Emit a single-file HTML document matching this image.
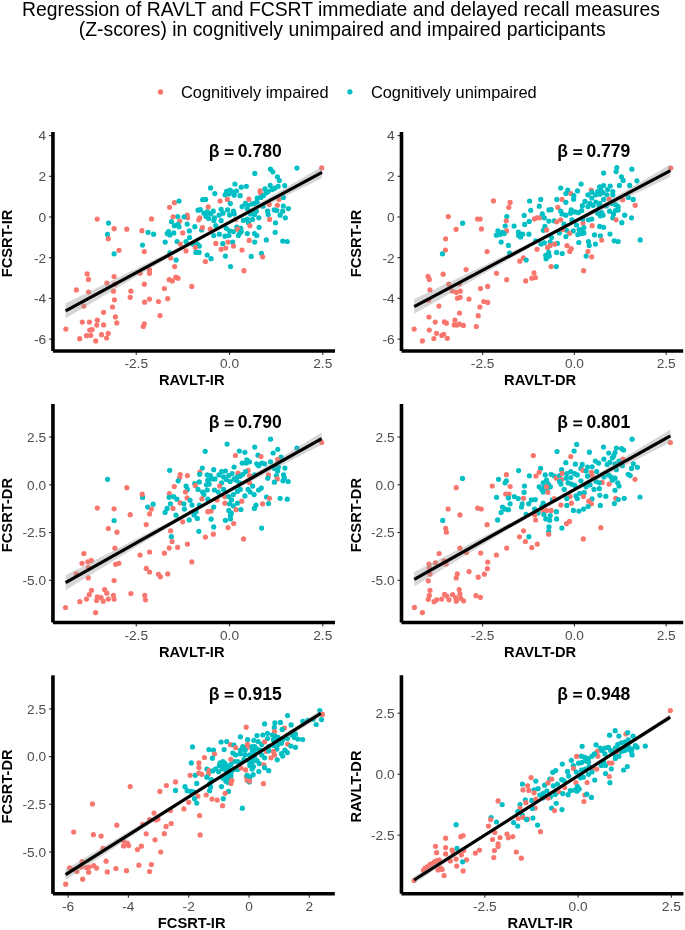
<!DOCTYPE html><html><head><meta charset="utf-8"><style>html,body{margin:0;padding:0;background:#fff;}svg{display:block;will-change:transform;}text{font-family:"Liberation Sans",sans-serif;}</style></head><body>
<svg width="685" height="930" viewBox="0 0 685 930">
<rect width="685" height="930" fill="#fff"/>
<text x="341" y="15.7" font-size="19.35" text-anchor="middle" fill="#000">Regression of RAVLT and FCSRT immediate and delayed recall measures</text>
<text x="342.2" y="35.8" font-size="19.35" text-anchor="middle" fill="#000">(Z-scores) in cognitively unimpaired and impaired participants</text>
<circle cx="160.5" cy="92" r="2.65" fill="#F8766D"/>
<circle cx="349.9" cy="91.8" r="2.65" fill="#00BFC4"/>
<text x="181.0" y="98.1" font-size="16.4" fill="#000">Cognitively impaired</text>
<text x="370.9" y="98.1" font-size="16.4" fill="#000">Cognitively unimpaired</text>
<g id="p1">
<circle cx="97.2" cy="219.1" r="2.6" fill="#F8766D"/>
<circle cx="108.5" cy="223.1" r="2.6" fill="#00BFC4"/>
<circle cx="114.1" cy="228.7" r="2.6" fill="#F8766D"/>
<circle cx="126.8" cy="229.2" r="2.6" fill="#F8766D"/>
<circle cx="141.9" cy="230.7" r="2.6" fill="#F8766D"/>
<circle cx="148.1" cy="232.3" r="2.6" fill="#00BFC4"/>
<circle cx="153.6" cy="234.2" r="2.6" fill="#00BFC4"/>
<circle cx="151.5" cy="218.9" r="2.6" fill="#F8766D"/>
<circle cx="107.5" cy="234.4" r="2.6" fill="#00BFC4"/>
<circle cx="108.3" cy="238.7" r="2.6" fill="#F8766D"/>
<circle cx="142.5" cy="245.1" r="2.6" fill="#00BFC4"/>
<circle cx="234.9" cy="184.0" r="2.6" fill="#00BFC4"/>
<circle cx="241.2" cy="187.2" r="2.6" fill="#00BFC4"/>
<circle cx="246.3" cy="186.3" r="2.6" fill="#00BFC4"/>
<circle cx="210.6" cy="187.9" r="2.6" fill="#00BFC4"/>
<circle cx="214.8" cy="193.6" r="2.6" fill="#00BFC4"/>
<circle cx="226.6" cy="191.3" r="2.6" fill="#00BFC4"/>
<circle cx="230.0" cy="190.0" r="2.6" fill="#00BFC4"/>
<circle cx="232.2" cy="191.9" r="2.6" fill="#00BFC4"/>
<circle cx="236.4" cy="191.1" r="2.6" fill="#00BFC4"/>
<circle cx="225.0" cy="194.8" r="2.6" fill="#00BFC4"/>
<circle cx="228.9" cy="193.9" r="2.6" fill="#00BFC4"/>
<circle cx="234.2" cy="195.2" r="2.6" fill="#00BFC4"/>
<circle cx="240.1" cy="195.7" r="2.6" fill="#00BFC4"/>
<circle cx="227.4" cy="199.4" r="2.6" fill="#F8766D"/>
<circle cx="220.1" cy="201.0" r="2.6" fill="#F8766D"/>
<circle cx="230.3" cy="203.6" r="2.6" fill="#00BFC4"/>
<circle cx="202.7" cy="199.7" r="2.6" fill="#00BFC4"/>
<circle cx="205.6" cy="199.4" r="2.6" fill="#00BFC4"/>
<circle cx="174.4" cy="202.7" r="2.6" fill="#F8766D"/>
<circle cx="169.6" cy="207.3" r="2.6" fill="#F8766D"/>
<circle cx="179.0" cy="201.0" r="2.6" fill="#00BFC4"/>
<circle cx="208.2" cy="206.9" r="2.6" fill="#F8766D"/>
<circle cx="198.1" cy="210.2" r="2.6" fill="#00BFC4"/>
<circle cx="200.3" cy="209.7" r="2.6" fill="#00BFC4"/>
<circle cx="204.0" cy="213.2" r="2.6" fill="#00BFC4"/>
<circle cx="207.3" cy="211.9" r="2.6" fill="#00BFC4"/>
<circle cx="210.6" cy="213.9" r="2.6" fill="#00BFC4"/>
<circle cx="213.2" cy="211.2" r="2.6" fill="#00BFC4"/>
<circle cx="206.0" cy="216.5" r="2.6" fill="#00BFC4"/>
<circle cx="208.6" cy="218.5" r="2.6" fill="#00BFC4"/>
<circle cx="214.5" cy="217.8" r="2.6" fill="#00BFC4"/>
<circle cx="213.8" cy="220.4" r="2.6" fill="#00BFC4"/>
<circle cx="221.1" cy="209.3" r="2.6" fill="#00BFC4"/>
<circle cx="227.6" cy="209.9" r="2.6" fill="#00BFC4"/>
<circle cx="233.5" cy="211.0" r="2.6" fill="#00BFC4"/>
<circle cx="219.1" cy="215.2" r="2.6" fill="#00BFC4"/>
<circle cx="223.0" cy="213.2" r="2.6" fill="#00BFC4"/>
<circle cx="229.6" cy="214.9" r="2.6" fill="#00BFC4"/>
<circle cx="234.2" cy="213.9" r="2.6" fill="#00BFC4"/>
<circle cx="242.1" cy="206.6" r="2.6" fill="#00BFC4"/>
<circle cx="245.4" cy="203.4" r="2.6" fill="#00BFC4"/>
<circle cx="247.3" cy="208.6" r="2.6" fill="#00BFC4"/>
<circle cx="199.8" cy="217.8" r="2.6" fill="#F8766D"/>
<circle cx="198.7" cy="219.8" r="2.6" fill="#F8766D"/>
<circle cx="187.2" cy="215.2" r="2.6" fill="#F8766D"/>
<circle cx="187.6" cy="217.8" r="2.6" fill="#F8766D"/>
<circle cx="184.0" cy="216.8" r="2.6" fill="#00BFC4"/>
<circle cx="177.7" cy="216.5" r="2.6" fill="#00BFC4"/>
<circle cx="173.1" cy="216.8" r="2.6" fill="#F8766D"/>
<circle cx="179.7" cy="221.1" r="2.6" fill="#F8766D"/>
<circle cx="171.5" cy="221.5" r="2.6" fill="#00BFC4"/>
<circle cx="174.4" cy="225.7" r="2.6" fill="#00BFC4"/>
<circle cx="177.7" cy="224.4" r="2.6" fill="#00BFC4"/>
<circle cx="179.0" cy="226.7" r="2.6" fill="#00BFC4"/>
<circle cx="187.2" cy="224.1" r="2.6" fill="#00BFC4"/>
<circle cx="194.8" cy="226.7" r="2.6" fill="#00BFC4"/>
<circle cx="201.6" cy="230.0" r="2.6" fill="#00BFC4"/>
<circle cx="202.4" cy="227.7" r="2.6" fill="#F8766D"/>
<circle cx="210.3" cy="229.0" r="2.6" fill="#F8766D"/>
<circle cx="215.8" cy="225.7" r="2.6" fill="#00BFC4"/>
<circle cx="221.1" cy="220.7" r="2.6" fill="#00BFC4"/>
<circle cx="235.5" cy="219.4" r="2.6" fill="#F8766D"/>
<circle cx="243.4" cy="220.4" r="2.6" fill="#00BFC4"/>
<circle cx="247.3" cy="219.1" r="2.6" fill="#00BFC4"/>
<circle cx="226.3" cy="228.3" r="2.6" fill="#00BFC4"/>
<circle cx="229.6" cy="230.9" r="2.6" fill="#00BFC4"/>
<circle cx="233.5" cy="231.6" r="2.6" fill="#00BFC4"/>
<circle cx="236.8" cy="227.0" r="2.6" fill="#00BFC4"/>
<circle cx="240.8" cy="228.3" r="2.6" fill="#00BFC4"/>
<circle cx="239.5" cy="233.6" r="2.6" fill="#00BFC4"/>
<circle cx="228.9" cy="235.5" r="2.6" fill="#00BFC4"/>
<circle cx="225.0" cy="236.2" r="2.6" fill="#00BFC4"/>
<circle cx="237.8" cy="229.2" r="2.6" fill="#F8766D"/>
<circle cx="219.4" cy="234.2" r="2.6" fill="#00BFC4"/>
<circle cx="213.8" cy="235.5" r="2.6" fill="#00BFC4"/>
<circle cx="168.5" cy="231.6" r="2.6" fill="#00BFC4"/>
<circle cx="169.8" cy="234.9" r="2.6" fill="#00BFC4"/>
<circle cx="167.2" cy="233.6" r="2.6" fill="#00BFC4"/>
<circle cx="173.8" cy="232.9" r="2.6" fill="#00BFC4"/>
<circle cx="182.7" cy="232.9" r="2.6" fill="#F8766D"/>
<circle cx="189.3" cy="230.9" r="2.6" fill="#00BFC4"/>
<circle cx="189.5" cy="237.5" r="2.6" fill="#00BFC4"/>
<circle cx="165.2" cy="242.1" r="2.6" fill="#00BFC4"/>
<circle cx="177.1" cy="241.5" r="2.6" fill="#00BFC4"/>
<circle cx="180.3" cy="244.1" r="2.6" fill="#F8766D"/>
<circle cx="186.0" cy="241.5" r="2.6" fill="#00BFC4"/>
<circle cx="192.8" cy="244.1" r="2.6" fill="#00BFC4"/>
<circle cx="197.4" cy="244.1" r="2.6" fill="#00BFC4"/>
<circle cx="199.4" cy="246.1" r="2.6" fill="#00BFC4"/>
<circle cx="195.4" cy="247.4" r="2.6" fill="#F8766D"/>
<circle cx="215.8" cy="243.4" r="2.6" fill="#F8766D"/>
<circle cx="222.8" cy="243.7" r="2.6" fill="#00BFC4"/>
<circle cx="228.0" cy="242.1" r="2.6" fill="#F8766D"/>
<circle cx="232.6" cy="242.1" r="2.6" fill="#00BFC4"/>
<circle cx="233.5" cy="246.1" r="2.6" fill="#F8766D"/>
<circle cx="225.7" cy="248.0" r="2.6" fill="#F8766D"/>
<circle cx="221.1" cy="249.3" r="2.6" fill="#F8766D"/>
<circle cx="238.4" cy="235.5" r="2.6" fill="#00BFC4"/>
<circle cx="247.3" cy="233.6" r="2.6" fill="#00BFC4"/>
<circle cx="321.7" cy="167.9" r="2.6" fill="#F8766D"/>
<circle cx="296.9" cy="168.1" r="2.6" fill="#00BFC4"/>
<circle cx="270.5" cy="169.2" r="2.6" fill="#00BFC4"/>
<circle cx="272.8" cy="171.8" r="2.6" fill="#00BFC4"/>
<circle cx="254.8" cy="173.4" r="2.6" fill="#00BFC4"/>
<circle cx="277.4" cy="176.8" r="2.6" fill="#00BFC4"/>
<circle cx="279.4" cy="180.6" r="2.6" fill="#00BFC4"/>
<circle cx="270.2" cy="185.4" r="2.6" fill="#00BFC4"/>
<circle cx="278.1" cy="186.3" r="2.6" fill="#00BFC4"/>
<circle cx="284.7" cy="185.6" r="2.6" fill="#00BFC4"/>
<circle cx="265.0" cy="188.9" r="2.6" fill="#00BFC4"/>
<circle cx="272.2" cy="189.6" r="2.6" fill="#00BFC4"/>
<circle cx="274.8" cy="188.2" r="2.6" fill="#00BFC4"/>
<circle cx="260.1" cy="190.9" r="2.6" fill="#F8766D"/>
<circle cx="260.8" cy="193.5" r="2.6" fill="#F8766D"/>
<circle cx="266.3" cy="192.8" r="2.6" fill="#00BFC4"/>
<circle cx="268.2" cy="191.5" r="2.6" fill="#00BFC4"/>
<circle cx="257.1" cy="198.1" r="2.6" fill="#00BFC4"/>
<circle cx="261.0" cy="197.4" r="2.6" fill="#00BFC4"/>
<circle cx="263.6" cy="195.5" r="2.6" fill="#00BFC4"/>
<circle cx="248.9" cy="199.2" r="2.6" fill="#F8766D"/>
<circle cx="279.0" cy="199.4" r="2.6" fill="#F8766D"/>
<circle cx="283.4" cy="197.4" r="2.6" fill="#00BFC4"/>
<circle cx="247.9" cy="205.3" r="2.6" fill="#00BFC4"/>
<circle cx="251.8" cy="204.0" r="2.6" fill="#00BFC4"/>
<circle cx="254.5" cy="203.4" r="2.6" fill="#00BFC4"/>
<circle cx="257.1" cy="202.0" r="2.6" fill="#00BFC4"/>
<circle cx="269.2" cy="204.4" r="2.6" fill="#F8766D"/>
<circle cx="277.4" cy="205.3" r="2.6" fill="#F8766D"/>
<circle cx="263.0" cy="206.2" r="2.6" fill="#00BFC4"/>
<circle cx="283.4" cy="206.0" r="2.6" fill="#00BFC4"/>
<circle cx="288.4" cy="208.6" r="2.6" fill="#00BFC4"/>
<circle cx="274.2" cy="209.9" r="2.6" fill="#00BFC4"/>
<circle cx="276.8" cy="210.6" r="2.6" fill="#00BFC4"/>
<circle cx="282.7" cy="211.2" r="2.6" fill="#00BFC4"/>
<circle cx="267.6" cy="211.2" r="2.6" fill="#00BFC4"/>
<circle cx="268.2" cy="214.5" r="2.6" fill="#00BFC4"/>
<circle cx="253.1" cy="211.9" r="2.6" fill="#00BFC4"/>
<circle cx="256.4" cy="211.2" r="2.6" fill="#00BFC4"/>
<circle cx="254.5" cy="214.5" r="2.6" fill="#00BFC4"/>
<circle cx="250.5" cy="213.9" r="2.6" fill="#00BFC4"/>
<circle cx="280.1" cy="215.2" r="2.6" fill="#00BFC4"/>
<circle cx="285.3" cy="217.8" r="2.6" fill="#00BFC4"/>
<circle cx="258.8" cy="217.8" r="2.6" fill="#00BFC4"/>
<circle cx="252.5" cy="219.4" r="2.6" fill="#00BFC4"/>
<circle cx="269.6" cy="219.4" r="2.6" fill="#F8766D"/>
<circle cx="275.5" cy="222.8" r="2.6" fill="#00BFC4"/>
<circle cx="248.5" cy="222.8" r="2.6" fill="#00BFC4"/>
<circle cx="249.9" cy="225.7" r="2.6" fill="#F8766D"/>
<circle cx="259.1" cy="227.3" r="2.6" fill="#00BFC4"/>
<circle cx="241.3" cy="231.6" r="2.6" fill="#00BFC4"/>
<circle cx="275.2" cy="232.3" r="2.6" fill="#00BFC4"/>
<circle cx="254.5" cy="233.6" r="2.6" fill="#00BFC4"/>
<circle cx="256.8" cy="235.5" r="2.6" fill="#00BFC4"/>
<circle cx="266.3" cy="239.9" r="2.6" fill="#00BFC4"/>
<circle cx="249.2" cy="240.4" r="2.6" fill="#F8766D"/>
<circle cx="254.7" cy="242.1" r="2.6" fill="#00BFC4"/>
<circle cx="282.7" cy="241.1" r="2.6" fill="#00BFC4"/>
<circle cx="287.3" cy="241.5" r="2.6" fill="#00BFC4"/>
<circle cx="242.0" cy="250.0" r="2.6" fill="#F8766D"/>
<circle cx="114.1" cy="253.9" r="2.6" fill="#00BFC4"/>
<circle cx="119.0" cy="250.3" r="2.6" fill="#F8766D"/>
<circle cx="144.3" cy="251.6" r="2.6" fill="#F8766D"/>
<circle cx="87.2" cy="273.9" r="2.6" fill="#F8766D"/>
<circle cx="88.5" cy="279.4" r="2.6" fill="#F8766D"/>
<circle cx="114.1" cy="276.5" r="2.6" fill="#F8766D"/>
<circle cx="106.9" cy="283.1" r="2.6" fill="#F8766D"/>
<circle cx="114.8" cy="284.2" r="2.6" fill="#F8766D"/>
<circle cx="140.1" cy="273.2" r="2.6" fill="#F8766D"/>
<circle cx="144.3" cy="284.2" r="2.6" fill="#F8766D"/>
<circle cx="76.4" cy="289.9" r="2.6" fill="#F8766D"/>
<circle cx="88.5" cy="292.0" r="2.6" fill="#F8766D"/>
<circle cx="113.5" cy="291.2" r="2.6" fill="#F8766D"/>
<circle cx="130.9" cy="291.2" r="2.6" fill="#F8766D"/>
<circle cx="130.2" cy="297.3" r="2.6" fill="#F8766D"/>
<circle cx="114.4" cy="299.8" r="2.6" fill="#F8766D"/>
<circle cx="83.9" cy="306.1" r="2.6" fill="#F8766D"/>
<circle cx="112.5" cy="307.0" r="2.6" fill="#F8766D"/>
<circle cx="144.6" cy="302.2" r="2.6" fill="#F8766D"/>
<circle cx="103.6" cy="312.3" r="2.6" fill="#F8766D"/>
<circle cx="115.4" cy="316.9" r="2.6" fill="#F8766D"/>
<circle cx="116.8" cy="322.9" r="2.6" fill="#F8766D"/>
<circle cx="82.3" cy="322.1" r="2.6" fill="#F8766D"/>
<circle cx="89.4" cy="322.1" r="2.6" fill="#F8766D"/>
<circle cx="97.4" cy="320.2" r="2.6" fill="#F8766D"/>
<circle cx="96.8" cy="325.1" r="2.6" fill="#F8766D"/>
<circle cx="103.6" cy="324.9" r="2.6" fill="#F8766D"/>
<circle cx="144.3" cy="323.8" r="2.6" fill="#F8766D"/>
<circle cx="143.3" cy="326.5" r="2.6" fill="#F8766D"/>
<circle cx="65.8" cy="329.1" r="2.6" fill="#F8766D"/>
<circle cx="89.8" cy="330.1" r="2.6" fill="#F8766D"/>
<circle cx="92.1" cy="329.7" r="2.6" fill="#F8766D"/>
<circle cx="86.5" cy="335.7" r="2.6" fill="#F8766D"/>
<circle cx="90.7" cy="335.4" r="2.6" fill="#F8766D"/>
<circle cx="101.6" cy="334.7" r="2.6" fill="#F8766D"/>
<circle cx="108.2" cy="333.4" r="2.6" fill="#F8766D"/>
<circle cx="106.6" cy="338.0" r="2.6" fill="#F8766D"/>
<circle cx="79.7" cy="338.7" r="2.6" fill="#F8766D"/>
<circle cx="95.7" cy="340.9" r="2.6" fill="#F8766D"/>
<circle cx="186.0" cy="250.9" r="2.6" fill="#F8766D"/>
<circle cx="195.9" cy="252.4" r="2.6" fill="#00BFC4"/>
<circle cx="199.1" cy="252.4" r="2.6" fill="#00BFC4"/>
<circle cx="169.9" cy="252.8" r="2.6" fill="#00BFC4"/>
<circle cx="170.7" cy="258.0" r="2.6" fill="#F8766D"/>
<circle cx="176.1" cy="260.1" r="2.6" fill="#00BFC4"/>
<circle cx="174.6" cy="266.6" r="2.6" fill="#F8766D"/>
<circle cx="207.2" cy="255.0" r="2.6" fill="#00BFC4"/>
<circle cx="211.1" cy="258.7" r="2.6" fill="#00BFC4"/>
<circle cx="205.4" cy="261.5" r="2.6" fill="#F8766D"/>
<circle cx="225.4" cy="256.1" r="2.6" fill="#00BFC4"/>
<circle cx="230.5" cy="266.6" r="2.6" fill="#00BFC4"/>
<circle cx="149.5" cy="269.9" r="2.6" fill="#F8766D"/>
<circle cx="149.5" cy="273.3" r="2.6" fill="#F8766D"/>
<circle cx="169.2" cy="279.7" r="2.6" fill="#F8766D"/>
<circle cx="172.4" cy="280.9" r="2.6" fill="#F8766D"/>
<circle cx="175.8" cy="277.2" r="2.6" fill="#F8766D"/>
<circle cx="178.0" cy="278.2" r="2.6" fill="#F8766D"/>
<circle cx="164.4" cy="288.6" r="2.6" fill="#F8766D"/>
<circle cx="191.8" cy="286.4" r="2.6" fill="#F8766D"/>
<circle cx="149.5" cy="299.1" r="2.6" fill="#F8766D"/>
<circle cx="158.5" cy="301.6" r="2.6" fill="#F8766D"/>
<circle cx="167.7" cy="298.7" r="2.6" fill="#F8766D"/>
<circle cx="160.0" cy="315.6" r="2.6" fill="#F8766D"/>
<circle cx="251.2" cy="256.4" r="2.6" fill="#00BFC4"/>
<circle cx="261.4" cy="253.4" r="2.6" fill="#00BFC4"/>
<circle cx="262.6" cy="256.8" r="2.6" fill="#F8766D"/>
<circle cx="243.9" cy="270.7" r="2.6" fill="#F8766D"/>
<polygon points="65.60,303.35 72.01,300.20 78.42,297.05 84.83,293.90 91.24,290.75 97.65,287.59 104.06,284.44 110.47,281.28 116.88,278.12 123.29,274.96 129.70,271.80 136.11,268.63 142.52,265.46 148.93,262.29 155.34,259.11 161.75,255.92 168.16,252.72 174.57,249.50 180.98,246.27 187.39,243.01 193.80,239.72 200.21,236.38 206.62,232.99 213.03,229.53 219.44,226.02 225.85,222.45 232.26,218.83 238.67,215.17 245.08,211.49 251.49,207.78 257.90,204.06 264.31,200.33 270.72,196.59 277.13,192.84 283.54,189.09 289.95,185.33 296.36,181.57 302.77,177.80 309.18,174.04 315.59,170.27 322.00,166.50 322.00,178.10 315.59,181.26 309.18,184.41 302.77,187.57 296.36,190.73 289.95,193.90 283.54,197.06 277.13,200.23 270.72,203.41 264.31,206.60 257.90,209.79 251.49,212.99 245.08,216.21 238.67,219.45 232.26,222.72 225.85,226.03 219.44,229.38 213.03,232.79 206.62,236.26 200.21,239.80 193.80,243.38 187.39,247.02 180.98,250.68 174.57,254.37 168.16,258.08 161.75,261.81 155.34,265.54 148.93,269.29 142.52,273.04 136.11,276.79 129.70,280.55 123.29,284.31 116.88,288.08 110.47,291.84 104.06,295.61 97.65,299.38 91.24,303.15 84.83,306.93 78.42,310.70 72.01,314.47 65.60,318.25" fill="#999999" fill-opacity="0.4"/>
<line x1="65.6" y1="310.8" x2="322.0" y2="172.3" stroke="#000" stroke-width="3.2"/>
<line x1="48.95" y1="135.60" x2="52.95" y2="135.60" stroke="#333" stroke-width="1.1"/>
<text x="46.05" y="140.45" font-size="13.7" text-anchor="end" fill="#4D4D4D">4</text>
<line x1="48.95" y1="176.30" x2="52.95" y2="176.30" stroke="#333" stroke-width="1.1"/>
<text x="46.05" y="181.15" font-size="13.7" text-anchor="end" fill="#4D4D4D">2</text>
<line x1="48.95" y1="217.00" x2="52.95" y2="217.00" stroke="#333" stroke-width="1.1"/>
<text x="46.05" y="221.85" font-size="13.7" text-anchor="end" fill="#4D4D4D">0</text>
<line x1="48.95" y1="257.70" x2="52.95" y2="257.70" stroke="#333" stroke-width="1.1"/>
<text x="46.05" y="262.55" font-size="13.7" text-anchor="end" fill="#4D4D4D">-2</text>
<line x1="48.95" y1="298.40" x2="52.95" y2="298.40" stroke="#333" stroke-width="1.1"/>
<text x="46.05" y="303.25" font-size="13.7" text-anchor="end" fill="#4D4D4D">-4</text>
<line x1="48.95" y1="339.10" x2="52.95" y2="339.10" stroke="#333" stroke-width="1.1"/>
<text x="46.05" y="343.95" font-size="13.7" text-anchor="end" fill="#4D4D4D">-6</text>
<line x1="136.25" y1="351.05" x2="136.25" y2="355.05" stroke="#333" stroke-width="1.1"/>
<text x="136.25" y="368.30" font-size="13.7" text-anchor="middle" fill="#4D4D4D">-2.5</text>
<line x1="229.50" y1="351.05" x2="229.50" y2="355.05" stroke="#333" stroke-width="1.1"/>
<text x="229.50" y="368.30" font-size="13.7" text-anchor="middle" fill="#4D4D4D">0.0</text>
<line x1="322.75" y1="351.05" x2="322.75" y2="355.05" stroke="#333" stroke-width="1.1"/>
<text x="322.75" y="368.30" font-size="13.7" text-anchor="middle" fill="#4D4D4D">2.5</text>
<line x1="52.95" y1="132.00" x2="52.95" y2="351.05" stroke="#000" stroke-width="3.6"/>
<line x1="52.95" y1="351.05" x2="335.00" y2="351.05" stroke="#000" stroke-width="3.6"/>
<text x="191.78" y="385.35" font-size="14.7" font-weight="bold" text-anchor="middle" fill="#000">RAVLT-IR</text>
<text transform="translate(12.05,243.43) rotate(-90)" font-size="14.7" font-weight="bold" text-anchor="middle" fill="#000">FCSRT-IR</text>
<text x="208.75" y="157.00" font-size="17.55" font-weight="bold" fill="#000">β</text>
<rect x="224.65" y="149.30" width="8.9" height="1.75" rx="0.5" fill="#000"/>
<rect x="224.65" y="153.15" width="8.9" height="1.75" rx="0.5" fill="#000"/>
<text x="237.85" y="156.90" font-size="17.55" font-weight="bold" fill="#000">0.780</text>
</g>
<g id="p2">
<circle cx="493.5" cy="200.9" r="2.6" fill="#F8766D"/>
<circle cx="448.3" cy="216.6" r="2.6" fill="#F8766D"/>
<circle cx="477.5" cy="219.1" r="2.6" fill="#F8766D"/>
<circle cx="480.1" cy="219.1" r="2.6" fill="#F8766D"/>
<circle cx="462.6" cy="223.2" r="2.6" fill="#00BFC4"/>
<circle cx="456.0" cy="229.3" r="2.6" fill="#F8766D"/>
<circle cx="481.4" cy="228.9" r="2.6" fill="#F8766D"/>
<circle cx="445.6" cy="238.8" r="2.6" fill="#F8766D"/>
<circle cx="497.9" cy="230.8" r="2.6" fill="#00BFC4"/>
<circle cx="496.4" cy="235.2" r="2.6" fill="#00BFC4"/>
<circle cx="500.1" cy="234.5" r="2.6" fill="#00BFC4"/>
<circle cx="502.3" cy="232.3" r="2.6" fill="#00BFC4"/>
<circle cx="501.1" cy="242.0" r="2.6" fill="#00BFC4"/>
<circle cx="581.1" cy="184.0" r="2.6" fill="#00BFC4"/>
<circle cx="560.7" cy="188.0" r="2.6" fill="#00BFC4"/>
<circle cx="567.7" cy="190.0" r="2.6" fill="#00BFC4"/>
<circle cx="577.5" cy="190.9" r="2.6" fill="#00BFC4"/>
<circle cx="570.8" cy="193.5" r="2.6" fill="#F8766D"/>
<circle cx="565.9" cy="193.5" r="2.6" fill="#00BFC4"/>
<circle cx="573.8" cy="195.5" r="2.6" fill="#00BFC4"/>
<circle cx="573.6" cy="199.2" r="2.6" fill="#00BFC4"/>
<circle cx="556.8" cy="199.4" r="2.6" fill="#00BFC4"/>
<circle cx="562.0" cy="199.4" r="2.6" fill="#F8766D"/>
<circle cx="565.9" cy="202.3" r="2.6" fill="#00BFC4"/>
<circle cx="529.6" cy="201.0" r="2.6" fill="#00BFC4"/>
<circle cx="540.7" cy="199.4" r="2.6" fill="#00BFC4"/>
<circle cx="539.3" cy="206.2" r="2.6" fill="#00BFC4"/>
<circle cx="510.1" cy="202.4" r="2.6" fill="#F8766D"/>
<circle cx="508.8" cy="207.3" r="2.6" fill="#F8766D"/>
<circle cx="530.7" cy="210.3" r="2.6" fill="#00BFC4"/>
<circle cx="557.8" cy="207.3" r="2.6" fill="#F8766D"/>
<circle cx="548.9" cy="209.9" r="2.6" fill="#00BFC4"/>
<circle cx="551.2" cy="209.7" r="2.6" fill="#00BFC4"/>
<circle cx="582.4" cy="205.7" r="2.6" fill="#00BFC4"/>
<circle cx="585.0" cy="201.4" r="2.6" fill="#00BFC4"/>
<circle cx="560.7" cy="211.0" r="2.6" fill="#00BFC4"/>
<circle cx="562.0" cy="213.9" r="2.6" fill="#00BFC4"/>
<circle cx="565.9" cy="215.2" r="2.6" fill="#00BFC4"/>
<circle cx="571.2" cy="209.9" r="2.6" fill="#00BFC4"/>
<circle cx="570.5" cy="213.2" r="2.6" fill="#00BFC4"/>
<circle cx="575.1" cy="211.9" r="2.6" fill="#00BFC4"/>
<circle cx="578.4" cy="212.6" r="2.6" fill="#00BFC4"/>
<circle cx="581.7" cy="210.6" r="2.6" fill="#00BFC4"/>
<circle cx="506.8" cy="216.5" r="2.6" fill="#00BFC4"/>
<circle cx="506.2" cy="220.8" r="2.6" fill="#F8766D"/>
<circle cx="524.2" cy="215.4" r="2.6" fill="#00BFC4"/>
<circle cx="534.4" cy="218.9" r="2.6" fill="#F8766D"/>
<circle cx="537.0" cy="217.8" r="2.6" fill="#F8766D"/>
<circle cx="539.7" cy="217.8" r="2.6" fill="#F8766D"/>
<circle cx="542.3" cy="213.9" r="2.6" fill="#00BFC4"/>
<circle cx="544.3" cy="217.8" r="2.6" fill="#00BFC4"/>
<circle cx="548.9" cy="221.1" r="2.6" fill="#00BFC4"/>
<circle cx="554.1" cy="220.8" r="2.6" fill="#00BFC4"/>
<circle cx="560.7" cy="219.8" r="2.6" fill="#F8766D"/>
<circle cx="556.8" cy="221.8" r="2.6" fill="#F8766D"/>
<circle cx="571.9" cy="219.8" r="2.6" fill="#00BFC4"/>
<circle cx="529.2" cy="221.4" r="2.6" fill="#00BFC4"/>
<circle cx="524.6" cy="224.4" r="2.6" fill="#00BFC4"/>
<circle cx="514.1" cy="226.0" r="2.6" fill="#00BFC4"/>
<circle cx="505.2" cy="226.0" r="2.6" fill="#00BFC4"/>
<circle cx="506.6" cy="230.9" r="2.6" fill="#F8766D"/>
<circle cx="504.2" cy="233.6" r="2.6" fill="#00BFC4"/>
<circle cx="564.0" cy="224.1" r="2.6" fill="#00BFC4"/>
<circle cx="576.5" cy="225.0" r="2.6" fill="#00BFC4"/>
<circle cx="583.0" cy="223.1" r="2.6" fill="#F8766D"/>
<circle cx="544.9" cy="226.4" r="2.6" fill="#00BFC4"/>
<circle cx="543.4" cy="230.3" r="2.6" fill="#00BFC4"/>
<circle cx="546.6" cy="229.9" r="2.6" fill="#F8766D"/>
<circle cx="559.4" cy="232.9" r="2.6" fill="#00BFC4"/>
<circle cx="566.6" cy="230.3" r="2.6" fill="#00BFC4"/>
<circle cx="573.2" cy="230.9" r="2.6" fill="#00BFC4"/>
<circle cx="579.1" cy="229.6" r="2.6" fill="#00BFC4"/>
<circle cx="581.7" cy="233.6" r="2.6" fill="#00BFC4"/>
<circle cx="577.8" cy="234.6" r="2.6" fill="#00BFC4"/>
<circle cx="569.6" cy="233.3" r="2.6" fill="#F8766D"/>
<circle cx="562.7" cy="229.6" r="2.6" fill="#F8766D"/>
<circle cx="565.9" cy="236.6" r="2.6" fill="#00BFC4"/>
<circle cx="518.4" cy="232.0" r="2.6" fill="#00BFC4"/>
<circle cx="522.6" cy="234.2" r="2.6" fill="#00BFC4"/>
<circle cx="520.6" cy="236.9" r="2.6" fill="#00BFC4"/>
<circle cx="518.6" cy="235.5" r="2.6" fill="#00BFC4"/>
<circle cx="528.9" cy="234.2" r="2.6" fill="#00BFC4"/>
<circle cx="508.4" cy="245.4" r="2.6" fill="#00BFC4"/>
<circle cx="551.5" cy="237.5" r="2.6" fill="#00BFC4"/>
<circle cx="550.2" cy="242.1" r="2.6" fill="#00BFC4"/>
<circle cx="557.4" cy="243.4" r="2.6" fill="#00BFC4"/>
<circle cx="541.0" cy="244.1" r="2.6" fill="#00BFC4"/>
<circle cx="544.3" cy="242.8" r="2.6" fill="#00BFC4"/>
<circle cx="535.7" cy="240.8" r="2.6" fill="#00BFC4"/>
<circle cx="550.2" cy="245.4" r="2.6" fill="#F8766D"/>
<circle cx="547.6" cy="247.4" r="2.6" fill="#F8766D"/>
<circle cx="554.8" cy="244.1" r="2.6" fill="#F8766D"/>
<circle cx="567.0" cy="245.7" r="2.6" fill="#F8766D"/>
<circle cx="571.2" cy="248.7" r="2.6" fill="#F8766D"/>
<circle cx="578.8" cy="242.5" r="2.6" fill="#00BFC4"/>
<circle cx="537.0" cy="249.3" r="2.6" fill="#F8766D"/>
<circle cx="616.8" cy="167.6" r="2.6" fill="#00BFC4"/>
<circle cx="616.1" cy="171.6" r="2.6" fill="#00BFC4"/>
<circle cx="631.9" cy="169.2" r="2.6" fill="#00BFC4"/>
<circle cx="603.6" cy="173.1" r="2.6" fill="#00BFC4"/>
<circle cx="621.4" cy="176.8" r="2.6" fill="#00BFC4"/>
<circle cx="623.1" cy="180.4" r="2.6" fill="#00BFC4"/>
<circle cx="636.9" cy="180.8" r="2.6" fill="#00BFC4"/>
<circle cx="619.4" cy="185.4" r="2.6" fill="#00BFC4"/>
<circle cx="629.7" cy="185.4" r="2.6" fill="#00BFC4"/>
<circle cx="591.2" cy="190.0" r="2.6" fill="#F8766D"/>
<circle cx="599.7" cy="186.9" r="2.6" fill="#00BFC4"/>
<circle cx="603.6" cy="185.6" r="2.6" fill="#00BFC4"/>
<circle cx="610.2" cy="186.0" r="2.6" fill="#00BFC4"/>
<circle cx="597.7" cy="191.5" r="2.6" fill="#00BFC4"/>
<circle cx="601.0" cy="190.2" r="2.6" fill="#00BFC4"/>
<circle cx="607.6" cy="189.6" r="2.6" fill="#00BFC4"/>
<circle cx="612.8" cy="191.5" r="2.6" fill="#00BFC4"/>
<circle cx="587.9" cy="194.8" r="2.6" fill="#00BFC4"/>
<circle cx="591.8" cy="192.2" r="2.6" fill="#00BFC4"/>
<circle cx="595.8" cy="194.8" r="2.6" fill="#00BFC4"/>
<circle cx="599.7" cy="194.2" r="2.6" fill="#00BFC4"/>
<circle cx="603.0" cy="192.8" r="2.6" fill="#00BFC4"/>
<circle cx="606.9" cy="194.8" r="2.6" fill="#00BFC4"/>
<circle cx="612.8" cy="194.8" r="2.6" fill="#00BFC4"/>
<circle cx="591.8" cy="198.1" r="2.6" fill="#00BFC4"/>
<circle cx="603.6" cy="199.4" r="2.6" fill="#00BFC4"/>
<circle cx="589.9" cy="203.4" r="2.6" fill="#00BFC4"/>
<circle cx="595.8" cy="202.0" r="2.6" fill="#00BFC4"/>
<circle cx="599.7" cy="203.4" r="2.6" fill="#00BFC4"/>
<circle cx="587.9" cy="206.6" r="2.6" fill="#00BFC4"/>
<circle cx="593.1" cy="205.3" r="2.6" fill="#00BFC4"/>
<circle cx="599.1" cy="206.0" r="2.6" fill="#00BFC4"/>
<circle cx="606.3" cy="206.0" r="2.6" fill="#00BFC4"/>
<circle cx="611.5" cy="203.4" r="2.6" fill="#00BFC4"/>
<circle cx="615.5" cy="204.7" r="2.6" fill="#00BFC4"/>
<circle cx="618.1" cy="206.6" r="2.6" fill="#00BFC4"/>
<circle cx="615.5" cy="210.6" r="2.6" fill="#00BFC4"/>
<circle cx="609.6" cy="211.2" r="2.6" fill="#00BFC4"/>
<circle cx="618.1" cy="209.9" r="2.6" fill="#00BFC4"/>
<circle cx="597.7" cy="213.2" r="2.6" fill="#00BFC4"/>
<circle cx="601.7" cy="212.6" r="2.6" fill="#00BFC4"/>
<circle cx="603.0" cy="215.2" r="2.6" fill="#00BFC4"/>
<circle cx="600.4" cy="215.8" r="2.6" fill="#00BFC4"/>
<circle cx="613.5" cy="213.9" r="2.6" fill="#00BFC4"/>
<circle cx="612.8" cy="217.8" r="2.6" fill="#00BFC4"/>
<circle cx="591.8" cy="219.1" r="2.6" fill="#00BFC4"/>
<circle cx="588.5" cy="219.8" r="2.6" fill="#00BFC4"/>
<circle cx="582.6" cy="219.1" r="2.6" fill="#00BFC4"/>
<circle cx="609.2" cy="199.2" r="2.6" fill="#F8766D"/>
<circle cx="622.7" cy="199.8" r="2.6" fill="#F8766D"/>
<circle cx="628.4" cy="197.4" r="2.6" fill="#00BFC4"/>
<circle cx="633.2" cy="199.4" r="2.6" fill="#00BFC4"/>
<circle cx="635.2" cy="205.3" r="2.6" fill="#F8766D"/>
<circle cx="624.7" cy="215.2" r="2.6" fill="#00BFC4"/>
<circle cx="631.5" cy="217.8" r="2.6" fill="#00BFC4"/>
<circle cx="616.1" cy="219.8" r="2.6" fill="#F8766D"/>
<circle cx="621.8" cy="222.7" r="2.6" fill="#00BFC4"/>
<circle cx="592.1" cy="225.7" r="2.6" fill="#F8766D"/>
<circle cx="599.7" cy="226.4" r="2.6" fill="#00BFC4"/>
<circle cx="603.6" cy="227.3" r="2.6" fill="#00BFC4"/>
<circle cx="583.9" cy="227.7" r="2.6" fill="#00BFC4"/>
<circle cx="582.0" cy="230.9" r="2.6" fill="#00BFC4"/>
<circle cx="583.9" cy="232.9" r="2.6" fill="#00BFC4"/>
<circle cx="610.0" cy="234.0" r="2.6" fill="#00BFC4"/>
<circle cx="594.5" cy="234.9" r="2.6" fill="#00BFC4"/>
<circle cx="600.4" cy="235.8" r="2.6" fill="#00BFC4"/>
<circle cx="601.7" cy="240.1" r="2.6" fill="#F8766D"/>
<circle cx="614.2" cy="240.8" r="2.6" fill="#00BFC4"/>
<circle cx="618.1" cy="241.5" r="2.6" fill="#00BFC4"/>
<circle cx="640.2" cy="239.9" r="2.6" fill="#00BFC4"/>
<circle cx="588.5" cy="241.5" r="2.6" fill="#00BFC4"/>
<circle cx="589.2" cy="245.4" r="2.6" fill="#00BFC4"/>
<circle cx="595.5" cy="244.1" r="2.6" fill="#00BFC4"/>
<circle cx="670.7" cy="168.0" r="2.6" fill="#F8766D"/>
<circle cx="445.4" cy="250.0" r="2.6" fill="#F8766D"/>
<circle cx="442.4" cy="253.9" r="2.6" fill="#00BFC4"/>
<circle cx="487.1" cy="251.6" r="2.6" fill="#F8766D"/>
<circle cx="466.1" cy="269.6" r="2.6" fill="#F8766D"/>
<circle cx="428.0" cy="276.3" r="2.6" fill="#F8766D"/>
<circle cx="429.3" cy="279.4" r="2.6" fill="#F8766D"/>
<circle cx="443.1" cy="274.2" r="2.6" fill="#F8766D"/>
<circle cx="448.7" cy="284.0" r="2.6" fill="#F8766D"/>
<circle cx="459.5" cy="283.8" r="2.6" fill="#F8766D"/>
<circle cx="429.9" cy="289.9" r="2.6" fill="#F8766D"/>
<circle cx="452.3" cy="291.0" r="2.6" fill="#F8766D"/>
<circle cx="456.2" cy="292.3" r="2.6" fill="#F8766D"/>
<circle cx="460.2" cy="291.2" r="2.6" fill="#F8766D"/>
<circle cx="480.5" cy="288.6" r="2.6" fill="#F8766D"/>
<circle cx="487.7" cy="286.4" r="2.6" fill="#F8766D"/>
<circle cx="428.6" cy="300.2" r="2.6" fill="#F8766D"/>
<circle cx="457.5" cy="298.2" r="2.6" fill="#F8766D"/>
<circle cx="460.2" cy="297.3" r="2.6" fill="#F8766D"/>
<circle cx="469.0" cy="299.1" r="2.6" fill="#F8766D"/>
<circle cx="483.8" cy="301.5" r="2.6" fill="#F8766D"/>
<circle cx="487.7" cy="302.4" r="2.6" fill="#F8766D"/>
<circle cx="479.9" cy="307.0" r="2.6" fill="#F8766D"/>
<circle cx="438.9" cy="306.1" r="2.6" fill="#F8766D"/>
<circle cx="459.5" cy="313.1" r="2.6" fill="#F8766D"/>
<circle cx="478.2" cy="315.7" r="2.6" fill="#F8766D"/>
<circle cx="429.0" cy="317.0" r="2.6" fill="#F8766D"/>
<circle cx="435.2" cy="322.1" r="2.6" fill="#F8766D"/>
<circle cx="444.4" cy="321.9" r="2.6" fill="#F8766D"/>
<circle cx="446.4" cy="323.2" r="2.6" fill="#F8766D"/>
<circle cx="454.9" cy="320.2" r="2.6" fill="#F8766D"/>
<circle cx="454.2" cy="324.9" r="2.6" fill="#F8766D"/>
<circle cx="459.5" cy="324.2" r="2.6" fill="#F8766D"/>
<circle cx="463.4" cy="325.4" r="2.6" fill="#F8766D"/>
<circle cx="456.9" cy="325.1" r="2.6" fill="#F8766D"/>
<circle cx="476.3" cy="326.5" r="2.6" fill="#F8766D"/>
<circle cx="414.2" cy="329.1" r="2.6" fill="#F8766D"/>
<circle cx="429.3" cy="330.1" r="2.6" fill="#F8766D"/>
<circle cx="436.5" cy="333.3" r="2.6" fill="#F8766D"/>
<circle cx="441.8" cy="335.4" r="2.6" fill="#F8766D"/>
<circle cx="443.7" cy="334.3" r="2.6" fill="#F8766D"/>
<circle cx="447.3" cy="338.3" r="2.6" fill="#F8766D"/>
<circle cx="433.9" cy="338.5" r="2.6" fill="#F8766D"/>
<circle cx="422.4" cy="340.9" r="2.6" fill="#F8766D"/>
<circle cx="509.6" cy="253.1" r="2.6" fill="#00BFC4"/>
<circle cx="519.8" cy="261.2" r="2.6" fill="#F8766D"/>
<circle cx="523.3" cy="257.8" r="2.6" fill="#F8766D"/>
<circle cx="526.2" cy="260.1" r="2.6" fill="#00BFC4"/>
<circle cx="548.6" cy="252.4" r="2.6" fill="#00BFC4"/>
<circle cx="545.7" cy="255.3" r="2.6" fill="#00BFC4"/>
<circle cx="549.3" cy="256.1" r="2.6" fill="#00BFC4"/>
<circle cx="546.1" cy="258.7" r="2.6" fill="#00BFC4"/>
<circle cx="556.6" cy="252.4" r="2.6" fill="#00BFC4"/>
<circle cx="562.2" cy="253.6" r="2.6" fill="#00BFC4"/>
<circle cx="569.8" cy="251.4" r="2.6" fill="#F8766D"/>
<circle cx="586.1" cy="256.1" r="2.6" fill="#00BFC4"/>
<circle cx="588.0" cy="251.4" r="2.6" fill="#F8766D"/>
<circle cx="551.1" cy="266.6" r="2.6" fill="#F8766D"/>
<circle cx="556.3" cy="266.6" r="2.6" fill="#00BFC4"/>
<circle cx="583.6" cy="270.7" r="2.6" fill="#F8766D"/>
<circle cx="496.5" cy="273.3" r="2.6" fill="#F8766D"/>
<circle cx="506.7" cy="279.7" r="2.6" fill="#F8766D"/>
<circle cx="525.7" cy="280.9" r="2.6" fill="#F8766D"/>
<circle cx="534.0" cy="272.8" r="2.6" fill="#F8766D"/>
<circle cx="531.8" cy="278.2" r="2.6" fill="#F8766D"/>
<circle cx="535.4" cy="277.5" r="2.6" fill="#F8766D"/>
<circle cx="591.7" cy="256.8" r="2.6" fill="#F8766D"/>
<polygon points="414.20,299.15 420.60,296.07 427.01,292.99 433.41,289.91 439.82,286.83 446.22,283.75 452.63,280.66 459.03,277.57 465.44,274.48 471.84,271.39 478.25,268.30 484.65,265.20 491.06,262.10 497.46,258.99 503.87,255.87 510.27,252.74 516.68,249.60 523.09,246.45 529.49,243.27 535.89,240.06 542.30,236.80 548.70,233.50 555.11,230.15 561.51,226.73 567.92,223.25 574.33,219.71 580.73,216.14 587.13,212.53 593.54,208.90 599.94,205.25 606.35,201.58 612.75,197.91 619.16,194.22 625.57,190.53 631.97,186.84 638.38,183.14 644.78,179.43 651.18,175.73 657.59,172.02 664.00,168.31 670.40,164.60 670.40,176.80 664.00,179.88 657.59,182.97 651.18,186.06 644.78,189.15 638.38,192.24 631.97,195.33 625.57,198.43 619.16,201.54 612.75,204.65 606.35,207.77 599.94,210.90 593.54,214.04 587.13,217.21 580.73,220.39 574.33,223.61 567.92,226.87 561.51,230.19 555.11,233.56 548.70,237.00 542.30,240.50 535.89,244.04 529.49,247.62 523.09,251.24 516.68,254.88 510.27,258.53 503.87,262.20 497.46,265.88 491.06,269.56 484.65,273.25 478.25,276.95 471.84,280.65 465.44,284.36 459.03,288.06 452.63,291.77 446.22,295.48 439.82,299.19 433.41,302.90 427.01,306.62 420.60,310.33 414.20,314.05" fill="#999999" fill-opacity="0.4"/>
<line x1="414.2" y1="306.6" x2="670.4" y2="170.7" stroke="#000" stroke-width="3.2"/>
<line x1="397.50" y1="135.60" x2="401.50" y2="135.60" stroke="#333" stroke-width="1.1"/>
<text x="394.60" y="140.45" font-size="13.7" text-anchor="end" fill="#4D4D4D">4</text>
<line x1="397.50" y1="176.30" x2="401.50" y2="176.30" stroke="#333" stroke-width="1.1"/>
<text x="394.60" y="181.15" font-size="13.7" text-anchor="end" fill="#4D4D4D">2</text>
<line x1="397.50" y1="217.00" x2="401.50" y2="217.00" stroke="#333" stroke-width="1.1"/>
<text x="394.60" y="221.85" font-size="13.7" text-anchor="end" fill="#4D4D4D">0</text>
<line x1="397.50" y1="257.70" x2="401.50" y2="257.70" stroke="#333" stroke-width="1.1"/>
<text x="394.60" y="262.55" font-size="13.7" text-anchor="end" fill="#4D4D4D">-2</text>
<line x1="397.50" y1="298.40" x2="401.50" y2="298.40" stroke="#333" stroke-width="1.1"/>
<text x="394.60" y="303.25" font-size="13.7" text-anchor="end" fill="#4D4D4D">-4</text>
<line x1="397.50" y1="339.10" x2="401.50" y2="339.10" stroke="#333" stroke-width="1.1"/>
<text x="394.60" y="343.95" font-size="13.7" text-anchor="end" fill="#4D4D4D">-6</text>
<line x1="482.65" y1="351.05" x2="482.65" y2="355.05" stroke="#333" stroke-width="1.1"/>
<text x="482.65" y="368.30" font-size="13.7" text-anchor="middle" fill="#4D4D4D">-2.5</text>
<line x1="574.40" y1="351.05" x2="574.40" y2="355.05" stroke="#333" stroke-width="1.1"/>
<text x="574.40" y="368.30" font-size="13.7" text-anchor="middle" fill="#4D4D4D">0.0</text>
<line x1="666.15" y1="351.05" x2="666.15" y2="355.05" stroke="#333" stroke-width="1.1"/>
<text x="666.15" y="368.30" font-size="13.7" text-anchor="middle" fill="#4D4D4D">2.5</text>
<line x1="401.50" y1="132.00" x2="401.50" y2="351.05" stroke="#000" stroke-width="3.6"/>
<line x1="401.50" y1="351.05" x2="683.20" y2="351.05" stroke="#000" stroke-width="3.6"/>
<text x="540.15" y="385.35" font-size="14.7" font-weight="bold" text-anchor="middle" fill="#000">RAVLT-DR</text>
<text transform="translate(360.60,243.43) rotate(-90)" font-size="14.7" font-weight="bold" text-anchor="middle" fill="#000">FCSRT-IR</text>
<text x="557.30" y="157.00" font-size="17.55" font-weight="bold" fill="#000">β</text>
<rect x="573.20" y="149.30" width="8.9" height="1.75" rx="0.5" fill="#000"/>
<rect x="573.20" y="153.15" width="8.9" height="1.75" rx="0.5" fill="#000"/>
<text x="586.40" y="156.90" font-size="17.55" font-weight="bold" fill="#000">0.779</text>
</g>
<g id="p3">
<circle cx="107.6" cy="479.3" r="2.6" fill="#00BFC4"/>
<circle cx="126.8" cy="487.7" r="2.6" fill="#F8766D"/>
<circle cx="142.6" cy="497.4" r="2.6" fill="#00BFC4"/>
<circle cx="142.2" cy="494.2" r="2.6" fill="#F8766D"/>
<circle cx="97.3" cy="508.1" r="2.6" fill="#F8766D"/>
<circle cx="114.1" cy="508.8" r="2.6" fill="#F8766D"/>
<circle cx="130.2" cy="514.7" r="2.6" fill="#F8766D"/>
<circle cx="147.7" cy="507.1" r="2.6" fill="#00BFC4"/>
<circle cx="153.1" cy="504.2" r="2.6" fill="#00BFC4"/>
<circle cx="151.4" cy="509.1" r="2.6" fill="#F8766D"/>
<circle cx="149.6" cy="513.9" r="2.6" fill="#F8766D"/>
<circle cx="227.1" cy="444.1" r="2.6" fill="#00BFC4"/>
<circle cx="205.2" cy="451.3" r="2.6" fill="#00BFC4"/>
<circle cx="239.3" cy="451.0" r="2.6" fill="#00BFC4"/>
<circle cx="235.4" cy="455.5" r="2.6" fill="#F8766D"/>
<circle cx="169.7" cy="470.3" r="2.6" fill="#00BFC4"/>
<circle cx="202.3" cy="468.1" r="2.6" fill="#00BFC4"/>
<circle cx="199.9" cy="472.0" r="2.6" fill="#F8766D"/>
<circle cx="199.7" cy="474.3" r="2.6" fill="#00BFC4"/>
<circle cx="213.7" cy="469.7" r="2.6" fill="#00BFC4"/>
<circle cx="234.1" cy="467.0" r="2.6" fill="#00BFC4"/>
<circle cx="238.0" cy="473.0" r="2.6" fill="#F8766D"/>
<circle cx="180.2" cy="474.7" r="2.6" fill="#F8766D"/>
<circle cx="179.6" cy="477.6" r="2.6" fill="#F8766D"/>
<circle cx="187.4" cy="475.6" r="2.6" fill="#F8766D"/>
<circle cx="178.2" cy="480.8" r="2.6" fill="#00BFC4"/>
<circle cx="174.3" cy="486.5" r="2.6" fill="#F8766D"/>
<circle cx="186.1" cy="486.1" r="2.6" fill="#00BFC4"/>
<circle cx="187.4" cy="489.4" r="2.6" fill="#00BFC4"/>
<circle cx="185.5" cy="492.0" r="2.6" fill="#F8766D"/>
<circle cx="194.7" cy="483.5" r="2.6" fill="#00BFC4"/>
<circle cx="199.3" cy="481.9" r="2.6" fill="#00BFC4"/>
<circle cx="195.3" cy="485.4" r="2.6" fill="#F8766D"/>
<circle cx="198.0" cy="489.4" r="2.6" fill="#00BFC4"/>
<circle cx="207.2" cy="474.9" r="2.6" fill="#00BFC4"/>
<circle cx="210.4" cy="475.6" r="2.6" fill="#00BFC4"/>
<circle cx="207.8" cy="480.2" r="2.6" fill="#00BFC4"/>
<circle cx="211.8" cy="478.9" r="2.6" fill="#00BFC4"/>
<circle cx="215.0" cy="478.9" r="2.6" fill="#00BFC4"/>
<circle cx="209.1" cy="484.1" r="2.6" fill="#00BFC4"/>
<circle cx="206.5" cy="484.8" r="2.6" fill="#00BFC4"/>
<circle cx="219.0" cy="474.9" r="2.6" fill="#00BFC4"/>
<circle cx="221.6" cy="471.6" r="2.6" fill="#00BFC4"/>
<circle cx="225.5" cy="471.0" r="2.6" fill="#00BFC4"/>
<circle cx="223.6" cy="476.9" r="2.6" fill="#00BFC4"/>
<circle cx="228.8" cy="475.6" r="2.6" fill="#00BFC4"/>
<circle cx="232.1" cy="473.6" r="2.6" fill="#00BFC4"/>
<circle cx="226.2" cy="479.5" r="2.6" fill="#00BFC4"/>
<circle cx="221.6" cy="482.8" r="2.6" fill="#00BFC4"/>
<circle cx="230.1" cy="481.5" r="2.6" fill="#00BFC4"/>
<circle cx="234.1" cy="478.9" r="2.6" fill="#00BFC4"/>
<circle cx="237.4" cy="476.9" r="2.6" fill="#00BFC4"/>
<circle cx="239.3" cy="482.8" r="2.6" fill="#00BFC4"/>
<circle cx="219.6" cy="486.1" r="2.6" fill="#F8766D"/>
<circle cx="214.4" cy="490.0" r="2.6" fill="#00BFC4"/>
<circle cx="218.3" cy="492.0" r="2.6" fill="#00BFC4"/>
<circle cx="223.6" cy="489.4" r="2.6" fill="#00BFC4"/>
<circle cx="207.2" cy="490.0" r="2.6" fill="#00BFC4"/>
<circle cx="202.6" cy="492.0" r="2.6" fill="#00BFC4"/>
<circle cx="203.9" cy="494.6" r="2.6" fill="#00BFC4"/>
<circle cx="237.4" cy="491.4" r="2.6" fill="#00BFC4"/>
<circle cx="169.4" cy="493.6" r="2.6" fill="#F8766D"/>
<circle cx="169.1" cy="497.3" r="2.6" fill="#00BFC4"/>
<circle cx="173.6" cy="496.6" r="2.6" fill="#00BFC4"/>
<circle cx="176.9" cy="499.2" r="2.6" fill="#00BFC4"/>
<circle cx="170.4" cy="503.8" r="2.6" fill="#00BFC4"/>
<circle cx="167.1" cy="508.4" r="2.6" fill="#00BFC4"/>
<circle cx="165.1" cy="512.4" r="2.6" fill="#00BFC4"/>
<circle cx="180.2" cy="502.8" r="2.6" fill="#F8766D"/>
<circle cx="183.9" cy="503.8" r="2.6" fill="#00BFC4"/>
<circle cx="184.4" cy="509.1" r="2.6" fill="#00BFC4"/>
<circle cx="187.1" cy="497.9" r="2.6" fill="#F8766D"/>
<circle cx="190.1" cy="500.3" r="2.6" fill="#00BFC4"/>
<circle cx="192.0" cy="505.1" r="2.6" fill="#00BFC4"/>
<circle cx="173.0" cy="508.4" r="2.6" fill="#F8766D"/>
<circle cx="201.9" cy="498.8" r="2.6" fill="#F8766D"/>
<circle cx="207.8" cy="499.2" r="2.6" fill="#00BFC4"/>
<circle cx="199.3" cy="505.1" r="2.6" fill="#00BFC4"/>
<circle cx="196.0" cy="511.7" r="2.6" fill="#00BFC4"/>
<circle cx="207.8" cy="511.7" r="2.6" fill="#F8766D"/>
<circle cx="211.1" cy="511.1" r="2.6" fill="#F8766D"/>
<circle cx="213.7" cy="507.1" r="2.6" fill="#00BFC4"/>
<circle cx="217.0" cy="499.9" r="2.6" fill="#F8766D"/>
<circle cx="224.9" cy="496.6" r="2.6" fill="#F8766D"/>
<circle cx="224.9" cy="503.2" r="2.6" fill="#F8766D"/>
<circle cx="228.8" cy="496.6" r="2.6" fill="#00BFC4"/>
<circle cx="231.5" cy="499.9" r="2.6" fill="#00BFC4"/>
<circle cx="233.4" cy="494.6" r="2.6" fill="#00BFC4"/>
<circle cx="229.5" cy="503.8" r="2.6" fill="#00BFC4"/>
<circle cx="233.4" cy="505.8" r="2.6" fill="#00BFC4"/>
<circle cx="237.4" cy="503.2" r="2.6" fill="#00BFC4"/>
<circle cx="236.1" cy="509.7" r="2.6" fill="#F8766D"/>
<circle cx="228.8" cy="510.4" r="2.6" fill="#00BFC4"/>
<circle cx="231.5" cy="513.0" r="2.6" fill="#00BFC4"/>
<circle cx="321.7" cy="442.5" r="2.6" fill="#F8766D"/>
<circle cx="270.5" cy="439.2" r="2.6" fill="#00BFC4"/>
<circle cx="254.7" cy="447.1" r="2.6" fill="#00BFC4"/>
<circle cx="297.0" cy="448.0" r="2.6" fill="#00BFC4"/>
<circle cx="244.9" cy="452.3" r="2.6" fill="#00BFC4"/>
<circle cx="258.0" cy="455.2" r="2.6" fill="#00BFC4"/>
<circle cx="261.0" cy="456.5" r="2.6" fill="#F8766D"/>
<circle cx="273.1" cy="453.0" r="2.6" fill="#00BFC4"/>
<circle cx="277.7" cy="449.3" r="2.6" fill="#00BFC4"/>
<circle cx="281.0" cy="457.2" r="2.6" fill="#00BFC4"/>
<circle cx="277.7" cy="459.4" r="2.6" fill="#F8766D"/>
<circle cx="246.8" cy="459.8" r="2.6" fill="#00BFC4"/>
<circle cx="249.5" cy="461.8" r="2.6" fill="#00BFC4"/>
<circle cx="242.2" cy="463.1" r="2.6" fill="#00BFC4"/>
<circle cx="246.2" cy="463.1" r="2.6" fill="#00BFC4"/>
<circle cx="256.7" cy="463.8" r="2.6" fill="#00BFC4"/>
<circle cx="258.6" cy="465.7" r="2.6" fill="#00BFC4"/>
<circle cx="261.9" cy="463.1" r="2.6" fill="#00BFC4"/>
<circle cx="264.6" cy="463.8" r="2.6" fill="#00BFC4"/>
<circle cx="270.5" cy="461.8" r="2.6" fill="#00BFC4"/>
<circle cx="274.4" cy="468.4" r="2.6" fill="#00BFC4"/>
<circle cx="278.4" cy="467.0" r="2.6" fill="#00BFC4"/>
<circle cx="277.7" cy="471.0" r="2.6" fill="#00BFC4"/>
<circle cx="284.9" cy="468.1" r="2.6" fill="#00BFC4"/>
<circle cx="248.1" cy="470.3" r="2.6" fill="#F8766D"/>
<circle cx="245.5" cy="471.6" r="2.6" fill="#00BFC4"/>
<circle cx="242.9" cy="474.3" r="2.6" fill="#00BFC4"/>
<circle cx="240.3" cy="476.2" r="2.6" fill="#00BFC4"/>
<circle cx="249.5" cy="475.6" r="2.6" fill="#F8766D"/>
<circle cx="254.7" cy="474.9" r="2.6" fill="#00BFC4"/>
<circle cx="268.5" cy="474.9" r="2.6" fill="#F8766D"/>
<circle cx="276.4" cy="475.6" r="2.6" fill="#00BFC4"/>
<circle cx="283.6" cy="474.9" r="2.6" fill="#00BFC4"/>
<circle cx="284.3" cy="478.2" r="2.6" fill="#00BFC4"/>
<circle cx="267.8" cy="478.2" r="2.6" fill="#00BFC4"/>
<circle cx="277.3" cy="478.9" r="2.6" fill="#F8766D"/>
<circle cx="274.4" cy="482.2" r="2.6" fill="#00BFC4"/>
<circle cx="283.0" cy="480.8" r="2.6" fill="#00BFC4"/>
<circle cx="288.2" cy="481.5" r="2.6" fill="#00BFC4"/>
<circle cx="236.3" cy="480.2" r="2.6" fill="#00BFC4"/>
<circle cx="249.5" cy="482.8" r="2.6" fill="#F8766D"/>
<circle cx="252.7" cy="486.1" r="2.6" fill="#00BFC4"/>
<circle cx="248.1" cy="489.4" r="2.6" fill="#00BFC4"/>
<circle cx="240.3" cy="489.4" r="2.6" fill="#00BFC4"/>
<circle cx="250.1" cy="492.0" r="2.6" fill="#00BFC4"/>
<circle cx="254.1" cy="494.6" r="2.6" fill="#00BFC4"/>
<circle cx="244.9" cy="495.9" r="2.6" fill="#00BFC4"/>
<circle cx="258.6" cy="490.0" r="2.6" fill="#00BFC4"/>
<circle cx="261.3" cy="488.1" r="2.6" fill="#00BFC4"/>
<circle cx="266.5" cy="497.0" r="2.6" fill="#00BFC4"/>
<circle cx="269.4" cy="498.3" r="2.6" fill="#F8766D"/>
<circle cx="280.1" cy="498.3" r="2.6" fill="#00BFC4"/>
<circle cx="287.2" cy="499.2" r="2.6" fill="#00BFC4"/>
<circle cx="241.8" cy="501.2" r="2.6" fill="#F8766D"/>
<circle cx="262.6" cy="503.8" r="2.6" fill="#F8766D"/>
<circle cx="268.5" cy="503.6" r="2.6" fill="#00BFC4"/>
<circle cx="256.0" cy="505.1" r="2.6" fill="#00BFC4"/>
<circle cx="254.4" cy="508.4" r="2.6" fill="#00BFC4"/>
<circle cx="240.9" cy="509.5" r="2.6" fill="#00BFC4"/>
<circle cx="114.1" cy="520.5" r="2.6" fill="#00BFC4"/>
<circle cx="108.3" cy="528.5" r="2.6" fill="#F8766D"/>
<circle cx="117.0" cy="532.2" r="2.6" fill="#F8766D"/>
<circle cx="146.2" cy="524.6" r="2.6" fill="#F8766D"/>
<circle cx="114.9" cy="548.2" r="2.6" fill="#F8766D"/>
<circle cx="83.9" cy="553.5" r="2.6" fill="#F8766D"/>
<circle cx="82.0" cy="563.3" r="2.6" fill="#F8766D"/>
<circle cx="87.8" cy="561.8" r="2.6" fill="#F8766D"/>
<circle cx="91.2" cy="560.4" r="2.6" fill="#F8766D"/>
<circle cx="88.3" cy="567.7" r="2.6" fill="#F8766D"/>
<circle cx="76.2" cy="573.9" r="2.6" fill="#F8766D"/>
<circle cx="88.3" cy="577.9" r="2.6" fill="#F8766D"/>
<circle cx="140.1" cy="555.0" r="2.6" fill="#F8766D"/>
<circle cx="149.6" cy="552.0" r="2.6" fill="#F8766D"/>
<circle cx="115.6" cy="564.3" r="2.6" fill="#F8766D"/>
<circle cx="118.9" cy="563.3" r="2.6" fill="#F8766D"/>
<circle cx="146.2" cy="568.4" r="2.6" fill="#F8766D"/>
<circle cx="149.6" cy="572.0" r="2.6" fill="#F8766D"/>
<circle cx="114.1" cy="580.5" r="2.6" fill="#F8766D"/>
<circle cx="91.5" cy="590.3" r="2.6" fill="#F8766D"/>
<circle cx="89.3" cy="594.7" r="2.6" fill="#F8766D"/>
<circle cx="86.4" cy="599.1" r="2.6" fill="#F8766D"/>
<circle cx="79.8" cy="601.7" r="2.6" fill="#F8766D"/>
<circle cx="104.6" cy="589.6" r="2.6" fill="#F8766D"/>
<circle cx="106.8" cy="593.2" r="2.6" fill="#F8766D"/>
<circle cx="97.3" cy="596.9" r="2.6" fill="#F8766D"/>
<circle cx="96.6" cy="600.5" r="2.6" fill="#F8766D"/>
<circle cx="101.0" cy="597.6" r="2.6" fill="#F8766D"/>
<circle cx="103.2" cy="601.2" r="2.6" fill="#F8766D"/>
<circle cx="108.3" cy="599.1" r="2.6" fill="#F8766D"/>
<circle cx="113.4" cy="595.4" r="2.6" fill="#F8766D"/>
<circle cx="114.1" cy="599.1" r="2.6" fill="#F8766D"/>
<circle cx="130.9" cy="593.5" r="2.6" fill="#F8766D"/>
<circle cx="144.8" cy="595.4" r="2.6" fill="#F8766D"/>
<circle cx="145.5" cy="599.8" r="2.6" fill="#F8766D"/>
<circle cx="65.5" cy="607.5" r="2.6" fill="#F8766D"/>
<circle cx="95.6" cy="612.6" r="2.6" fill="#F8766D"/>
<circle cx="176.0" cy="515.2" r="2.6" fill="#00BFC4"/>
<circle cx="182.7" cy="521.8" r="2.6" fill="#F8766D"/>
<circle cx="189.2" cy="519.9" r="2.6" fill="#00BFC4"/>
<circle cx="194.0" cy="514.9" r="2.6" fill="#00BFC4"/>
<circle cx="197.3" cy="518.4" r="2.6" fill="#00BFC4"/>
<circle cx="211.1" cy="519.2" r="2.6" fill="#00BFC4"/>
<circle cx="213.7" cy="526.9" r="2.6" fill="#00BFC4"/>
<circle cx="198.8" cy="531.3" r="2.6" fill="#00BFC4"/>
<circle cx="205.4" cy="537.1" r="2.6" fill="#F8766D"/>
<circle cx="213.3" cy="534.2" r="2.6" fill="#F8766D"/>
<circle cx="230.5" cy="515.2" r="2.6" fill="#00BFC4"/>
<circle cx="230.5" cy="518.9" r="2.6" fill="#00BFC4"/>
<circle cx="225.4" cy="520.3" r="2.6" fill="#00BFC4"/>
<circle cx="233.7" cy="523.5" r="2.6" fill="#F8766D"/>
<circle cx="228.0" cy="527.6" r="2.6" fill="#F8766D"/>
<circle cx="243.6" cy="538.9" r="2.6" fill="#F8766D"/>
<circle cx="170.6" cy="530.8" r="2.6" fill="#F8766D"/>
<circle cx="171.4" cy="536.7" r="2.6" fill="#00BFC4"/>
<circle cx="172.1" cy="541.5" r="2.6" fill="#F8766D"/>
<circle cx="169.2" cy="548.1" r="2.6" fill="#F8766D"/>
<circle cx="177.6" cy="547.3" r="2.6" fill="#F8766D"/>
<circle cx="187.4" cy="544.1" r="2.6" fill="#F8766D"/>
<circle cx="164.4" cy="553.2" r="2.6" fill="#F8766D"/>
<circle cx="191.8" cy="561.9" r="2.6" fill="#F8766D"/>
<circle cx="158.5" cy="574.3" r="2.6" fill="#F8766D"/>
<circle cx="160.4" cy="576.8" r="2.6" fill="#F8766D"/>
<circle cx="167.7" cy="573.9" r="2.6" fill="#F8766D"/>
<circle cx="261.6" cy="528.1" r="2.6" fill="#00BFC4"/>
<polygon points="65.60,575.25 72.00,571.97 78.41,568.68 84.81,565.40 91.21,562.12 97.61,558.83 104.02,555.54 110.42,552.25 116.82,548.96 123.22,545.66 129.62,542.36 136.03,539.06 142.43,535.75 148.83,532.44 155.24,529.12 161.64,525.78 168.04,522.44 174.44,519.07 180.84,515.68 187.25,512.26 193.65,508.80 200.05,505.28 206.46,501.71 212.86,498.07 219.26,494.38 225.66,490.63 232.06,486.85 238.47,483.03 244.87,479.19 251.27,475.33 257.68,471.45 264.08,467.57 270.48,463.68 276.88,459.78 283.29,455.88 289.69,451.97 296.09,448.06 302.49,444.15 308.89,440.24 315.30,436.32 321.70,432.40 321.70,444.80 315.30,448.09 308.89,451.37 302.49,454.66 296.09,457.96 289.69,461.25 283.29,464.55 276.88,467.85 270.48,471.16 264.08,474.47 257.68,477.80 251.27,481.13 244.87,484.47 238.47,487.84 232.06,491.22 225.66,494.64 219.26,498.10 212.86,501.61 206.46,505.18 200.05,508.81 193.65,512.50 187.25,516.24 180.84,520.03 174.44,523.84 168.04,527.68 161.64,531.54 155.24,535.41 148.83,539.30 142.43,543.19 136.03,547.08 129.62,550.99 123.22,554.89 116.82,558.80 110.42,562.71 104.02,566.63 97.61,570.55 91.21,574.46 84.81,578.38 78.41,582.31 72.00,586.23 65.60,590.15" fill="#999999" fill-opacity="0.4"/>
<line x1="65.6" y1="582.7" x2="321.7" y2="438.6" stroke="#000" stroke-width="3.2"/>
<line x1="48.95" y1="437.05" x2="52.95" y2="437.05" stroke="#333" stroke-width="1.1"/>
<text x="46.05" y="441.90" font-size="13.7" text-anchor="end" fill="#4D4D4D">2.5</text>
<line x1="48.95" y1="484.80" x2="52.95" y2="484.80" stroke="#333" stroke-width="1.1"/>
<text x="46.05" y="489.65" font-size="13.7" text-anchor="end" fill="#4D4D4D">0.0</text>
<line x1="48.95" y1="532.55" x2="52.95" y2="532.55" stroke="#333" stroke-width="1.1"/>
<text x="46.05" y="537.40" font-size="13.7" text-anchor="end" fill="#4D4D4D">-2.5</text>
<line x1="48.95" y1="580.30" x2="52.95" y2="580.30" stroke="#333" stroke-width="1.1"/>
<text x="46.05" y="585.15" font-size="13.7" text-anchor="end" fill="#4D4D4D">-5.0</text>
<line x1="136.25" y1="622.45" x2="136.25" y2="626.45" stroke="#333" stroke-width="1.1"/>
<text x="136.25" y="639.70" font-size="13.7" text-anchor="middle" fill="#4D4D4D">-2.5</text>
<line x1="229.50" y1="622.45" x2="229.50" y2="626.45" stroke="#333" stroke-width="1.1"/>
<text x="229.50" y="639.70" font-size="13.7" text-anchor="middle" fill="#4D4D4D">0.0</text>
<line x1="322.75" y1="622.45" x2="322.75" y2="626.45" stroke="#333" stroke-width="1.1"/>
<text x="322.75" y="639.70" font-size="13.7" text-anchor="middle" fill="#4D4D4D">2.5</text>
<line x1="52.95" y1="404.00" x2="52.95" y2="622.45" stroke="#000" stroke-width="3.6"/>
<line x1="52.95" y1="622.45" x2="335.00" y2="622.45" stroke="#000" stroke-width="3.6"/>
<text x="191.78" y="656.75" font-size="14.7" font-weight="bold" text-anchor="middle" fill="#000">RAVLT-IR</text>
<text transform="translate(12.05,515.12) rotate(-90)" font-size="14.7" font-weight="bold" text-anchor="middle" fill="#000">FCSRT-DR</text>
<text x="208.75" y="428.30" font-size="17.55" font-weight="bold" fill="#000">β</text>
<rect x="224.65" y="420.60" width="8.9" height="1.75" rx="0.5" fill="#000"/>
<rect x="224.65" y="424.45" width="8.9" height="1.75" rx="0.5" fill="#000"/>
<text x="237.85" y="428.20" font-size="17.55" font-weight="bold" fill="#000">0.790</text>
</g>
<g id="p4">
<circle cx="462.5" cy="478.4" r="2.6" fill="#00BFC4"/>
<circle cx="456.2" cy="487.7" r="2.6" fill="#F8766D"/>
<circle cx="492.3" cy="486.0" r="2.6" fill="#F8766D"/>
<circle cx="448.1" cy="509.0" r="2.6" fill="#F8766D"/>
<circle cx="477.6" cy="508.1" r="2.6" fill="#F8766D"/>
<circle cx="481.2" cy="509.0" r="2.6" fill="#F8766D"/>
<circle cx="459.9" cy="514.9" r="2.6" fill="#F8766D"/>
<circle cx="442.7" cy="520.4" r="2.6" fill="#00BFC4"/>
<circle cx="487.1" cy="524.7" r="2.6" fill="#F8766D"/>
<circle cx="445.7" cy="528.3" r="2.6" fill="#F8766D"/>
<circle cx="576.7" cy="444.4" r="2.6" fill="#00BFC4"/>
<circle cx="557.0" cy="451.5" r="2.6" fill="#00BFC4"/>
<circle cx="574.1" cy="451.0" r="2.6" fill="#00BFC4"/>
<circle cx="533.3" cy="455.6" r="2.6" fill="#F8766D"/>
<circle cx="570.8" cy="456.5" r="2.6" fill="#F8766D"/>
<circle cx="565.8" cy="462.7" r="2.6" fill="#00BFC4"/>
<circle cx="575.4" cy="464.2" r="2.6" fill="#00BFC4"/>
<circle cx="518.6" cy="470.6" r="2.6" fill="#00BFC4"/>
<circle cx="540.6" cy="468.4" r="2.6" fill="#00BFC4"/>
<circle cx="539.2" cy="472.3" r="2.6" fill="#F8766D"/>
<circle cx="536.0" cy="476.0" r="2.6" fill="#F8766D"/>
<circle cx="529.4" cy="475.8" r="2.6" fill="#00BFC4"/>
<circle cx="545.2" cy="474.9" r="2.6" fill="#00BFC4"/>
<circle cx="551.1" cy="474.3" r="2.6" fill="#00BFC4"/>
<circle cx="554.4" cy="476.0" r="2.6" fill="#00BFC4"/>
<circle cx="556.3" cy="478.2" r="2.6" fill="#F8766D"/>
<circle cx="561.6" cy="469.7" r="2.6" fill="#00BFC4"/>
<circle cx="559.6" cy="475.6" r="2.6" fill="#00BFC4"/>
<circle cx="562.2" cy="473.4" r="2.6" fill="#F8766D"/>
<circle cx="561.6" cy="479.5" r="2.6" fill="#F8766D"/>
<circle cx="566.8" cy="473.6" r="2.6" fill="#00BFC4"/>
<circle cx="570.8" cy="471.6" r="2.6" fill="#00BFC4"/>
<circle cx="574.7" cy="473.6" r="2.6" fill="#00BFC4"/>
<circle cx="566.2" cy="478.2" r="2.6" fill="#00BFC4"/>
<circle cx="570.8" cy="477.6" r="2.6" fill="#00BFC4"/>
<circle cx="577.3" cy="474.9" r="2.6" fill="#00BFC4"/>
<circle cx="506.4" cy="474.7" r="2.6" fill="#F8766D"/>
<circle cx="498.5" cy="479.3" r="2.6" fill="#00BFC4"/>
<circle cx="505.1" cy="482.8" r="2.6" fill="#00BFC4"/>
<circle cx="506.4" cy="480.8" r="2.6" fill="#00BFC4"/>
<circle cx="510.1" cy="486.5" r="2.6" fill="#F8766D"/>
<circle cx="524.5" cy="486.1" r="2.6" fill="#00BFC4"/>
<circle cx="524.1" cy="492.3" r="2.6" fill="#00BFC4"/>
<circle cx="543.2" cy="482.8" r="2.6" fill="#00BFC4"/>
<circle cx="546.5" cy="480.2" r="2.6" fill="#00BFC4"/>
<circle cx="548.4" cy="484.1" r="2.6" fill="#00BFC4"/>
<circle cx="544.5" cy="486.8" r="2.6" fill="#00BFC4"/>
<circle cx="550.4" cy="486.8" r="2.6" fill="#00BFC4"/>
<circle cx="539.2" cy="486.8" r="2.6" fill="#00BFC4"/>
<circle cx="541.9" cy="489.4" r="2.6" fill="#00BFC4"/>
<circle cx="547.1" cy="489.4" r="2.6" fill="#00BFC4"/>
<circle cx="543.2" cy="492.0" r="2.6" fill="#00BFC4"/>
<circle cx="546.5" cy="486.8" r="2.6" fill="#F8766D"/>
<circle cx="547.8" cy="492.3" r="2.6" fill="#F8766D"/>
<circle cx="559.6" cy="481.5" r="2.6" fill="#00BFC4"/>
<circle cx="560.9" cy="484.1" r="2.6" fill="#00BFC4"/>
<circle cx="564.2" cy="489.4" r="2.6" fill="#00BFC4"/>
<circle cx="568.1" cy="482.8" r="2.6" fill="#00BFC4"/>
<circle cx="571.4" cy="484.1" r="2.6" fill="#00BFC4"/>
<circle cx="574.7" cy="485.4" r="2.6" fill="#00BFC4"/>
<circle cx="505.7" cy="494.0" r="2.6" fill="#F8766D"/>
<circle cx="509.0" cy="494.0" r="2.6" fill="#F8766D"/>
<circle cx="496.5" cy="497.3" r="2.6" fill="#00BFC4"/>
<circle cx="508.4" cy="497.9" r="2.6" fill="#00BFC4"/>
<circle cx="514.3" cy="496.6" r="2.6" fill="#00BFC4"/>
<circle cx="518.2" cy="498.6" r="2.6" fill="#00BFC4"/>
<circle cx="523.5" cy="498.3" r="2.6" fill="#F8766D"/>
<circle cx="531.4" cy="499.9" r="2.6" fill="#00BFC4"/>
<circle cx="535.3" cy="499.6" r="2.6" fill="#00BFC4"/>
<circle cx="528.7" cy="503.8" r="2.6" fill="#00BFC4"/>
<circle cx="510.1" cy="503.8" r="2.6" fill="#00BFC4"/>
<circle cx="522.2" cy="503.8" r="2.6" fill="#00BFC4"/>
<circle cx="521.5" cy="507.1" r="2.6" fill="#00BFC4"/>
<circle cx="502.5" cy="507.1" r="2.6" fill="#00BFC4"/>
<circle cx="505.1" cy="509.1" r="2.6" fill="#00BFC4"/>
<circle cx="508.4" cy="509.7" r="2.6" fill="#00BFC4"/>
<circle cx="501.1" cy="512.4" r="2.6" fill="#00BFC4"/>
<circle cx="543.2" cy="503.2" r="2.6" fill="#00BFC4"/>
<circle cx="541.9" cy="506.5" r="2.6" fill="#00BFC4"/>
<circle cx="552.4" cy="499.9" r="2.6" fill="#00BFC4"/>
<circle cx="554.4" cy="498.6" r="2.6" fill="#F8766D"/>
<circle cx="570.1" cy="496.6" r="2.6" fill="#F8766D"/>
<circle cx="571.4" cy="503.2" r="2.6" fill="#F8766D"/>
<circle cx="566.8" cy="498.6" r="2.6" fill="#00BFC4"/>
<circle cx="576.0" cy="495.9" r="2.6" fill="#00BFC4"/>
<circle cx="566.8" cy="505.4" r="2.6" fill="#00BFC4"/>
<circle cx="577.3" cy="498.6" r="2.6" fill="#00BFC4"/>
<circle cx="560.9" cy="505.1" r="2.6" fill="#F8766D"/>
<circle cx="534.6" cy="509.1" r="2.6" fill="#00BFC4"/>
<circle cx="556.3" cy="511.7" r="2.6" fill="#00BFC4"/>
<circle cx="573.4" cy="510.4" r="2.6" fill="#00BFC4"/>
<circle cx="543.2" cy="511.1" r="2.6" fill="#F8766D"/>
<circle cx="546.5" cy="510.4" r="2.6" fill="#F8766D"/>
<circle cx="551.1" cy="510.4" r="2.6" fill="#F8766D"/>
<circle cx="526.1" cy="514.3" r="2.6" fill="#00BFC4"/>
<circle cx="632.1" cy="439.2" r="2.6" fill="#00BFC4"/>
<circle cx="603.5" cy="447.1" r="2.6" fill="#00BFC4"/>
<circle cx="589.4" cy="452.2" r="2.6" fill="#00BFC4"/>
<circle cx="608.7" cy="453.0" r="2.6" fill="#00BFC4"/>
<circle cx="616.4" cy="448.0" r="2.6" fill="#00BFC4"/>
<circle cx="621.6" cy="448.6" r="2.6" fill="#00BFC4"/>
<circle cx="623.6" cy="450.0" r="2.6" fill="#00BFC4"/>
<circle cx="615.0" cy="452.6" r="2.6" fill="#00BFC4"/>
<circle cx="613.7" cy="455.9" r="2.6" fill="#00BFC4"/>
<circle cx="612.4" cy="457.8" r="2.6" fill="#00BFC4"/>
<circle cx="622.9" cy="459.2" r="2.6" fill="#F8766D"/>
<circle cx="595.3" cy="461.1" r="2.6" fill="#00BFC4"/>
<circle cx="598.6" cy="463.1" r="2.6" fill="#00BFC4"/>
<circle cx="603.9" cy="459.2" r="2.6" fill="#00BFC4"/>
<circle cx="607.2" cy="464.4" r="2.6" fill="#00BFC4"/>
<circle cx="609.8" cy="462.4" r="2.6" fill="#00BFC4"/>
<circle cx="615.0" cy="463.8" r="2.6" fill="#00BFC4"/>
<circle cx="619.0" cy="461.1" r="2.6" fill="#00BFC4"/>
<circle cx="582.2" cy="464.4" r="2.6" fill="#00BFC4"/>
<circle cx="580.9" cy="468.4" r="2.6" fill="#00BFC4"/>
<circle cx="587.5" cy="467.0" r="2.6" fill="#00BFC4"/>
<circle cx="592.1" cy="466.8" r="2.6" fill="#00BFC4"/>
<circle cx="633.4" cy="463.8" r="2.6" fill="#00BFC4"/>
<circle cx="637.4" cy="467.3" r="2.6" fill="#00BFC4"/>
<circle cx="631.5" cy="468.4" r="2.6" fill="#00BFC4"/>
<circle cx="622.3" cy="465.7" r="2.6" fill="#00BFC4"/>
<circle cx="616.4" cy="469.7" r="2.6" fill="#00BFC4"/>
<circle cx="591.4" cy="472.3" r="2.6" fill="#F8766D"/>
<circle cx="592.1" cy="475.6" r="2.6" fill="#F8766D"/>
<circle cx="582.9" cy="470.3" r="2.6" fill="#F8766D"/>
<circle cx="596.6" cy="471.6" r="2.6" fill="#00BFC4"/>
<circle cx="586.1" cy="471.0" r="2.6" fill="#00BFC4"/>
<circle cx="587.5" cy="476.2" r="2.6" fill="#00BFC4"/>
<circle cx="628.2" cy="474.3" r="2.6" fill="#00BFC4"/>
<circle cx="630.2" cy="475.6" r="2.6" fill="#00BFC4"/>
<circle cx="635.0" cy="479.3" r="2.6" fill="#F8766D"/>
<circle cx="608.5" cy="474.9" r="2.6" fill="#00BFC4"/>
<circle cx="611.1" cy="476.9" r="2.6" fill="#00BFC4"/>
<circle cx="615.0" cy="478.2" r="2.6" fill="#00BFC4"/>
<circle cx="617.7" cy="482.8" r="2.6" fill="#00BFC4"/>
<circle cx="612.4" cy="480.2" r="2.6" fill="#00BFC4"/>
<circle cx="619.0" cy="486.1" r="2.6" fill="#00BFC4"/>
<circle cx="603.9" cy="476.9" r="2.6" fill="#00BFC4"/>
<circle cx="602.2" cy="482.4" r="2.6" fill="#F8766D"/>
<circle cx="609.1" cy="484.1" r="2.6" fill="#F8766D"/>
<circle cx="580.9" cy="480.8" r="2.6" fill="#00BFC4"/>
<circle cx="590.1" cy="484.8" r="2.6" fill="#00BFC4"/>
<circle cx="596.0" cy="481.5" r="2.6" fill="#00BFC4"/>
<circle cx="599.3" cy="482.8" r="2.6" fill="#00BFC4"/>
<circle cx="586.1" cy="486.8" r="2.6" fill="#00BFC4"/>
<circle cx="594.0" cy="489.4" r="2.6" fill="#00BFC4"/>
<circle cx="599.3" cy="488.7" r="2.6" fill="#00BFC4"/>
<circle cx="615.0" cy="490.3" r="2.6" fill="#00BFC4"/>
<circle cx="579.6" cy="493.3" r="2.6" fill="#00BFC4"/>
<circle cx="584.2" cy="492.7" r="2.6" fill="#00BFC4"/>
<circle cx="583.5" cy="496.6" r="2.6" fill="#F8766D"/>
<circle cx="599.9" cy="495.3" r="2.6" fill="#00BFC4"/>
<circle cx="605.8" cy="496.3" r="2.6" fill="#00BFC4"/>
<circle cx="624.2" cy="498.3" r="2.6" fill="#00BFC4"/>
<circle cx="640.0" cy="497.0" r="2.6" fill="#00BFC4"/>
<circle cx="615.7" cy="498.3" r="2.6" fill="#F8766D"/>
<circle cx="618.3" cy="499.6" r="2.6" fill="#00BFC4"/>
<circle cx="614.4" cy="503.6" r="2.6" fill="#00BFC4"/>
<circle cx="592.1" cy="498.8" r="2.6" fill="#00BFC4"/>
<circle cx="588.8" cy="501.2" r="2.6" fill="#F8766D"/>
<circle cx="591.4" cy="503.8" r="2.6" fill="#F8766D"/>
<circle cx="600.3" cy="505.4" r="2.6" fill="#00BFC4"/>
<circle cx="588.1" cy="506.5" r="2.6" fill="#00BFC4"/>
<circle cx="583.5" cy="509.1" r="2.6" fill="#00BFC4"/>
<circle cx="578.9" cy="511.1" r="2.6" fill="#00BFC4"/>
<circle cx="670.4" cy="442.6" r="2.6" fill="#F8766D"/>
<circle cx="497.6" cy="519.9" r="2.6" fill="#00BFC4"/>
<circle cx="446.4" cy="532.2" r="2.6" fill="#F8766D"/>
<circle cx="459.9" cy="548.2" r="2.6" fill="#F8766D"/>
<circle cx="466.5" cy="552.6" r="2.6" fill="#F8766D"/>
<circle cx="480.7" cy="553.1" r="2.6" fill="#F8766D"/>
<circle cx="496.4" cy="555.0" r="2.6" fill="#F8766D"/>
<circle cx="439.1" cy="553.5" r="2.6" fill="#F8766D"/>
<circle cx="429.0" cy="564.0" r="2.6" fill="#F8766D"/>
<circle cx="435.4" cy="562.8" r="2.6" fill="#F8766D"/>
<circle cx="443.9" cy="560.8" r="2.6" fill="#F8766D"/>
<circle cx="446.1" cy="564.0" r="2.6" fill="#F8766D"/>
<circle cx="429.3" cy="567.7" r="2.6" fill="#F8766D"/>
<circle cx="430.0" cy="574.2" r="2.6" fill="#F8766D"/>
<circle cx="428.3" cy="580.8" r="2.6" fill="#F8766D"/>
<circle cx="487.7" cy="562.1" r="2.6" fill="#F8766D"/>
<circle cx="487.4" cy="568.7" r="2.6" fill="#F8766D"/>
<circle cx="469.1" cy="571.6" r="2.6" fill="#F8766D"/>
<circle cx="457.3" cy="573.8" r="2.6" fill="#F8766D"/>
<circle cx="456.3" cy="577.9" r="2.6" fill="#F8766D"/>
<circle cx="484.3" cy="574.2" r="2.6" fill="#F8766D"/>
<circle cx="478.2" cy="577.2" r="2.6" fill="#F8766D"/>
<circle cx="430.0" cy="590.3" r="2.6" fill="#F8766D"/>
<circle cx="429.3" cy="595.4" r="2.6" fill="#F8766D"/>
<circle cx="428.3" cy="599.3" r="2.6" fill="#F8766D"/>
<circle cx="434.1" cy="601.7" r="2.6" fill="#F8766D"/>
<circle cx="436.6" cy="599.8" r="2.6" fill="#F8766D"/>
<circle cx="441.7" cy="599.1" r="2.6" fill="#F8766D"/>
<circle cx="444.6" cy="594.4" r="2.6" fill="#F8766D"/>
<circle cx="446.8" cy="596.1" r="2.6" fill="#F8766D"/>
<circle cx="449.0" cy="599.8" r="2.6" fill="#F8766D"/>
<circle cx="452.6" cy="594.7" r="2.6" fill="#F8766D"/>
<circle cx="455.6" cy="597.6" r="2.6" fill="#F8766D"/>
<circle cx="456.3" cy="601.2" r="2.6" fill="#F8766D"/>
<circle cx="459.2" cy="589.6" r="2.6" fill="#F8766D"/>
<circle cx="459.9" cy="593.9" r="2.6" fill="#F8766D"/>
<circle cx="460.7" cy="598.3" r="2.6" fill="#F8766D"/>
<circle cx="463.6" cy="600.8" r="2.6" fill="#F8766D"/>
<circle cx="476.0" cy="595.7" r="2.6" fill="#F8766D"/>
<circle cx="480.4" cy="597.3" r="2.6" fill="#F8766D"/>
<circle cx="414.4" cy="607.4" r="2.6" fill="#F8766D"/>
<circle cx="422.4" cy="612.6" r="2.6" fill="#F8766D"/>
<circle cx="538.1" cy="513.0" r="2.6" fill="#00BFC4"/>
<circle cx="534.7" cy="514.9" r="2.6" fill="#F8766D"/>
<circle cx="535.6" cy="520.0" r="2.6" fill="#F8766D"/>
<circle cx="543.9" cy="514.5" r="2.6" fill="#00BFC4"/>
<circle cx="545.8" cy="518.9" r="2.6" fill="#00BFC4"/>
<circle cx="550.2" cy="515.5" r="2.6" fill="#00BFC4"/>
<circle cx="549.7" cy="520.3" r="2.6" fill="#00BFC4"/>
<circle cx="556.6" cy="518.9" r="2.6" fill="#00BFC4"/>
<circle cx="549.0" cy="526.9" r="2.6" fill="#00BFC4"/>
<circle cx="548.7" cy="531.3" r="2.6" fill="#00BFC4"/>
<circle cx="548.7" cy="534.2" r="2.6" fill="#F8766D"/>
<circle cx="561.9" cy="528.1" r="2.6" fill="#00BFC4"/>
<circle cx="566.5" cy="523.7" r="2.6" fill="#F8766D"/>
<circle cx="569.5" cy="521.4" r="2.6" fill="#F8766D"/>
<circle cx="523.5" cy="530.8" r="2.6" fill="#F8766D"/>
<circle cx="519.5" cy="536.8" r="2.6" fill="#F8766D"/>
<circle cx="528.9" cy="536.7" r="2.6" fill="#00BFC4"/>
<circle cx="525.4" cy="541.5" r="2.6" fill="#F8766D"/>
<circle cx="537.3" cy="544.1" r="2.6" fill="#F8766D"/>
<circle cx="531.8" cy="547.6" r="2.6" fill="#F8766D"/>
<circle cx="506.7" cy="548.1" r="2.6" fill="#F8766D"/>
<circle cx="583.3" cy="538.9" r="2.6" fill="#F8766D"/>
<circle cx="600.8" cy="527.7" r="2.6" fill="#F8766D"/>
<polygon points="414.20,572.05 420.60,568.78 427.01,565.52 433.41,562.25 439.82,558.98 446.22,555.71 452.63,552.43 459.03,549.16 465.44,545.88 471.84,542.60 478.25,539.31 484.65,536.02 491.06,532.72 497.46,529.42 503.87,526.10 510.27,522.77 516.68,519.43 523.09,516.06 529.49,512.67 535.89,509.23 542.30,505.75 548.70,502.22 555.11,498.62 561.51,494.97 567.92,491.27 574.33,487.52 580.73,483.73 587.13,479.92 593.54,476.09 599.94,472.24 606.35,468.38 612.75,464.51 619.16,460.64 625.57,456.76 631.97,452.87 638.38,448.98 644.78,445.09 651.18,441.20 657.59,437.30 664.00,433.40 670.40,429.50 670.40,442.30 664.00,445.57 657.59,448.84 651.18,452.11 644.78,455.39 638.38,458.67 631.97,461.95 625.57,465.23 619.16,468.52 612.75,471.82 606.35,475.12 599.94,478.43 593.54,481.75 587.13,485.09 580.73,488.45 574.33,491.83 567.92,495.25 561.51,498.72 555.11,502.24 548.70,505.81 542.30,509.45 535.89,513.14 529.49,516.87 523.09,520.65 516.68,524.45 510.27,528.28 503.87,532.12 497.46,535.97 491.06,539.84 484.65,543.71 478.25,547.59 471.84,551.47 465.44,555.36 459.03,559.25 452.63,563.15 446.22,567.04 439.82,570.94 433.41,574.84 427.01,578.74 420.60,582.65 414.20,586.55" fill="#999999" fill-opacity="0.4"/>
<line x1="414.2" y1="579.3" x2="670.4" y2="435.9" stroke="#000" stroke-width="3.2"/>
<line x1="397.50" y1="437.05" x2="401.50" y2="437.05" stroke="#333" stroke-width="1.1"/>
<text x="394.60" y="441.90" font-size="13.7" text-anchor="end" fill="#4D4D4D">2.5</text>
<line x1="397.50" y1="484.80" x2="401.50" y2="484.80" stroke="#333" stroke-width="1.1"/>
<text x="394.60" y="489.65" font-size="13.7" text-anchor="end" fill="#4D4D4D">0.0</text>
<line x1="397.50" y1="532.55" x2="401.50" y2="532.55" stroke="#333" stroke-width="1.1"/>
<text x="394.60" y="537.40" font-size="13.7" text-anchor="end" fill="#4D4D4D">-2.5</text>
<line x1="397.50" y1="580.30" x2="401.50" y2="580.30" stroke="#333" stroke-width="1.1"/>
<text x="394.60" y="585.15" font-size="13.7" text-anchor="end" fill="#4D4D4D">-5.0</text>
<line x1="482.65" y1="622.45" x2="482.65" y2="626.45" stroke="#333" stroke-width="1.1"/>
<text x="482.65" y="639.70" font-size="13.7" text-anchor="middle" fill="#4D4D4D">-2.5</text>
<line x1="574.40" y1="622.45" x2="574.40" y2="626.45" stroke="#333" stroke-width="1.1"/>
<text x="574.40" y="639.70" font-size="13.7" text-anchor="middle" fill="#4D4D4D">0.0</text>
<line x1="666.15" y1="622.45" x2="666.15" y2="626.45" stroke="#333" stroke-width="1.1"/>
<text x="666.15" y="639.70" font-size="13.7" text-anchor="middle" fill="#4D4D4D">2.5</text>
<line x1="401.50" y1="404.00" x2="401.50" y2="622.45" stroke="#000" stroke-width="3.6"/>
<line x1="401.50" y1="622.45" x2="683.20" y2="622.45" stroke="#000" stroke-width="3.6"/>
<text x="540.15" y="656.75" font-size="14.7" font-weight="bold" text-anchor="middle" fill="#000">RAVLT-DR</text>
<text transform="translate(360.60,515.12) rotate(-90)" font-size="14.7" font-weight="bold" text-anchor="middle" fill="#000">FCSRT-DR</text>
<text x="557.30" y="428.30" font-size="17.55" font-weight="bold" fill="#000">β</text>
<rect x="573.20" y="420.60" width="8.9" height="1.75" rx="0.5" fill="#000"/>
<rect x="573.20" y="424.45" width="8.9" height="1.75" rx="0.5" fill="#000"/>
<text x="586.40" y="428.20" font-size="17.55" font-weight="bold" fill="#000">0.801</text>
</g>
<g id="p5">
<circle cx="130.2" cy="786.5" r="2.6" fill="#F8766D"/>
<circle cx="92.5" cy="803.9" r="2.6" fill="#F8766D"/>
<circle cx="73.7" cy="832.0" r="2.6" fill="#F8766D"/>
<circle cx="93.4" cy="834.7" r="2.6" fill="#F8766D"/>
<circle cx="101.1" cy="836.1" r="2.6" fill="#F8766D"/>
<circle cx="116.8" cy="825.2" r="2.6" fill="#F8766D"/>
<circle cx="154.0" cy="813.1" r="2.6" fill="#F8766D"/>
<circle cx="149.6" cy="819.6" r="2.6" fill="#F8766D"/>
<circle cx="142.6" cy="824.3" r="2.6" fill="#F8766D"/>
<circle cx="146.2" cy="833.8" r="2.6" fill="#F8766D"/>
<circle cx="155.0" cy="839.8" r="2.6" fill="#F8766D"/>
<circle cx="123.3" cy="840.8" r="2.6" fill="#F8766D"/>
<circle cx="123.6" cy="845.9" r="2.6" fill="#F8766D"/>
<circle cx="127.3" cy="843.0" r="2.6" fill="#F8766D"/>
<circle cx="128.7" cy="845.6" r="2.6" fill="#F8766D"/>
<circle cx="137.5" cy="849.6" r="2.6" fill="#F8766D"/>
<circle cx="141.4" cy="846.2" r="2.6" fill="#F8766D"/>
<circle cx="102.9" cy="848.4" r="2.6" fill="#F8766D"/>
<circle cx="82.0" cy="861.7" r="2.6" fill="#F8766D"/>
<circle cx="106.1" cy="861.2" r="2.6" fill="#F8766D"/>
<circle cx="69.6" cy="867.8" r="2.6" fill="#F8766D"/>
<circle cx="74.0" cy="869.3" r="2.6" fill="#F8766D"/>
<circle cx="76.9" cy="871.5" r="2.6" fill="#F8766D"/>
<circle cx="81.3" cy="867.1" r="2.6" fill="#F8766D"/>
<circle cx="86.4" cy="867.5" r="2.6" fill="#F8766D"/>
<circle cx="89.3" cy="867.1" r="2.6" fill="#F8766D"/>
<circle cx="93.7" cy="865.6" r="2.6" fill="#F8766D"/>
<circle cx="96.6" cy="868.1" r="2.6" fill="#F8766D"/>
<circle cx="88.6" cy="872.2" r="2.6" fill="#F8766D"/>
<circle cx="107.3" cy="871.9" r="2.6" fill="#F8766D"/>
<circle cx="115.9" cy="868.5" r="2.6" fill="#F8766D"/>
<circle cx="126.5" cy="870.7" r="2.6" fill="#F8766D"/>
<circle cx="138.9" cy="865.2" r="2.6" fill="#F8766D"/>
<circle cx="151.4" cy="864.6" r="2.6" fill="#F8766D"/>
<circle cx="149.6" cy="871.5" r="2.6" fill="#F8766D"/>
<circle cx="82.7" cy="879.2" r="2.6" fill="#F8766D"/>
<circle cx="65.7" cy="884.2" r="2.6" fill="#F8766D"/>
<circle cx="191.3" cy="762.9" r="2.6" fill="#00BFC4"/>
<circle cx="198.9" cy="762.9" r="2.6" fill="#F8766D"/>
<circle cx="198.9" cy="767.6" r="2.6" fill="#F8766D"/>
<circle cx="206.9" cy="769.1" r="2.6" fill="#00BFC4"/>
<circle cx="209.1" cy="770.5" r="2.6" fill="#F8766D"/>
<circle cx="208.4" cy="773.9" r="2.6" fill="#F8766D"/>
<circle cx="190.1" cy="775.3" r="2.6" fill="#F8766D"/>
<circle cx="195.3" cy="775.3" r="2.6" fill="#00BFC4"/>
<circle cx="198.9" cy="773.1" r="2.6" fill="#F8766D"/>
<circle cx="201.8" cy="774.3" r="2.6" fill="#F8766D"/>
<circle cx="206.9" cy="777.2" r="2.6" fill="#00BFC4"/>
<circle cx="212.8" cy="770.9" r="2.6" fill="#00BFC4"/>
<circle cx="215.7" cy="768.8" r="2.6" fill="#00BFC4"/>
<circle cx="218.6" cy="771.7" r="2.6" fill="#00BFC4"/>
<circle cx="220.1" cy="762.9" r="2.6" fill="#00BFC4"/>
<circle cx="223.0" cy="761.5" r="2.6" fill="#00BFC4"/>
<circle cx="224.5" cy="765.8" r="2.6" fill="#00BFC4"/>
<circle cx="228.8" cy="766.6" r="2.6" fill="#00BFC4"/>
<circle cx="225.9" cy="770.2" r="2.6" fill="#00BFC4"/>
<circle cx="231.0" cy="764.4" r="2.6" fill="#00BFC4"/>
<circle cx="234.7" cy="761.5" r="2.6" fill="#00BFC4"/>
<circle cx="237.6" cy="761.5" r="2.6" fill="#00BFC4"/>
<circle cx="240.5" cy="762.9" r="2.6" fill="#00BFC4"/>
<circle cx="237.6" cy="769.5" r="2.6" fill="#00BFC4"/>
<circle cx="222.3" cy="768.8" r="2.6" fill="#00BFC4"/>
<circle cx="245.6" cy="769.9" r="2.6" fill="#F8766D"/>
<circle cx="246.4" cy="776.8" r="2.6" fill="#F8766D"/>
<circle cx="247.1" cy="780.4" r="2.6" fill="#F8766D"/>
<circle cx="247.1" cy="775.3" r="2.6" fill="#00BFC4"/>
<circle cx="249.3" cy="781.9" r="2.6" fill="#00BFC4"/>
<circle cx="223.0" cy="778.2" r="2.6" fill="#00BFC4"/>
<circle cx="225.9" cy="781.2" r="2.6" fill="#00BFC4"/>
<circle cx="228.8" cy="778.2" r="2.6" fill="#00BFC4"/>
<circle cx="228.1" cy="782.6" r="2.6" fill="#00BFC4"/>
<circle cx="231.0" cy="776.1" r="2.6" fill="#00BFC4"/>
<circle cx="228.8" cy="773.9" r="2.6" fill="#00BFC4"/>
<circle cx="231.8" cy="780.4" r="2.6" fill="#F8766D"/>
<circle cx="231.0" cy="783.4" r="2.6" fill="#F8766D"/>
<circle cx="211.3" cy="779.7" r="2.6" fill="#00BFC4"/>
<circle cx="209.9" cy="783.4" r="2.6" fill="#00BFC4"/>
<circle cx="210.6" cy="787.0" r="2.6" fill="#00BFC4"/>
<circle cx="209.6" cy="790.7" r="2.6" fill="#00BFC4"/>
<circle cx="196.7" cy="783.4" r="2.6" fill="#00BFC4"/>
<circle cx="221.5" cy="786.6" r="2.6" fill="#00BFC4"/>
<circle cx="228.5" cy="791.4" r="2.6" fill="#00BFC4"/>
<circle cx="225.2" cy="793.3" r="2.6" fill="#F8766D"/>
<circle cx="223.3" cy="798.7" r="2.6" fill="#00BFC4"/>
<circle cx="175.5" cy="781.9" r="2.6" fill="#F8766D"/>
<circle cx="166.4" cy="785.5" r="2.6" fill="#F8766D"/>
<circle cx="159.9" cy="791.4" r="2.6" fill="#F8766D"/>
<circle cx="175.5" cy="790.4" r="2.6" fill="#00BFC4"/>
<circle cx="185.0" cy="786.7" r="2.6" fill="#00BFC4"/>
<circle cx="187.2" cy="790.7" r="2.6" fill="#00BFC4"/>
<circle cx="190.9" cy="791.4" r="2.6" fill="#00BFC4"/>
<circle cx="193.8" cy="791.8" r="2.6" fill="#00BFC4"/>
<circle cx="197.9" cy="796.2" r="2.6" fill="#F8766D"/>
<circle cx="206.2" cy="795.0" r="2.6" fill="#F8766D"/>
<circle cx="212.0" cy="799.1" r="2.6" fill="#F8766D"/>
<circle cx="217.2" cy="800.1" r="2.6" fill="#F8766D"/>
<circle cx="194.5" cy="798.7" r="2.6" fill="#00BFC4"/>
<circle cx="196.7" cy="803.1" r="2.6" fill="#00BFC4"/>
<circle cx="188.7" cy="802.3" r="2.6" fill="#F8766D"/>
<circle cx="183.9" cy="808.9" r="2.6" fill="#F8766D"/>
<circle cx="222.6" cy="805.7" r="2.6" fill="#F8766D"/>
<circle cx="242.3" cy="808.2" r="2.6" fill="#00BFC4"/>
<circle cx="170.4" cy="810.4" r="2.6" fill="#F8766D"/>
<circle cx="158.0" cy="819.1" r="2.6" fill="#F8766D"/>
<circle cx="155.8" cy="819.9" r="2.6" fill="#F8766D"/>
<circle cx="199.6" cy="815.5" r="2.6" fill="#F8766D"/>
<circle cx="171.2" cy="823.5" r="2.6" fill="#F8766D"/>
<circle cx="166.1" cy="826.4" r="2.6" fill="#F8766D"/>
<circle cx="164.3" cy="833.7" r="2.6" fill="#F8766D"/>
<circle cx="200.1" cy="834.9" r="2.6" fill="#F8766D"/>
<circle cx="160.7" cy="852.0" r="2.6" fill="#F8766D"/>
<circle cx="246.2" cy="727.2" r="2.6" fill="#F8766D"/>
<circle cx="240.4" cy="736.8" r="2.6" fill="#00BFC4"/>
<circle cx="247.6" cy="739.7" r="2.6" fill="#00BFC4"/>
<circle cx="253.8" cy="740.3" r="2.6" fill="#00BFC4"/>
<circle cx="221.1" cy="742.0" r="2.6" fill="#00BFC4"/>
<circle cx="226.7" cy="741.5" r="2.6" fill="#00BFC4"/>
<circle cx="192.5" cy="746.9" r="2.6" fill="#00BFC4"/>
<circle cx="230.5" cy="744.7" r="2.6" fill="#F8766D"/>
<circle cx="234.0" cy="745.0" r="2.6" fill="#00BFC4"/>
<circle cx="235.7" cy="747.6" r="2.6" fill="#F8766D"/>
<circle cx="247.4" cy="744.4" r="2.6" fill="#F8766D"/>
<circle cx="247.4" cy="747.3" r="2.6" fill="#F8766D"/>
<circle cx="242.7" cy="746.7" r="2.6" fill="#00BFC4"/>
<circle cx="245.1" cy="750.2" r="2.6" fill="#00BFC4"/>
<circle cx="240.4" cy="750.2" r="2.6" fill="#00BFC4"/>
<circle cx="252.1" cy="746.7" r="2.6" fill="#00BFC4"/>
<circle cx="254.4" cy="749.1" r="2.6" fill="#00BFC4"/>
<circle cx="208.9" cy="749.6" r="2.6" fill="#00BFC4"/>
<circle cx="213.5" cy="750.2" r="2.6" fill="#00BFC4"/>
<circle cx="224.1" cy="749.6" r="2.6" fill="#00BFC4"/>
<circle cx="214.5" cy="754.0" r="2.6" fill="#F8766D"/>
<circle cx="232.8" cy="753.1" r="2.6" fill="#00BFC4"/>
<circle cx="235.7" cy="754.9" r="2.6" fill="#00BFC4"/>
<circle cx="240.4" cy="753.7" r="2.6" fill="#00BFC4"/>
<circle cx="245.1" cy="754.9" r="2.6" fill="#00BFC4"/>
<circle cx="249.7" cy="754.9" r="2.6" fill="#00BFC4"/>
<circle cx="254.4" cy="753.7" r="2.6" fill="#00BFC4"/>
<circle cx="204.4" cy="757.5" r="2.6" fill="#F8766D"/>
<circle cx="212.4" cy="758.2" r="2.6" fill="#00BFC4"/>
<circle cx="230.8" cy="759.3" r="2.6" fill="#F8766D"/>
<circle cx="243.9" cy="759.6" r="2.6" fill="#00BFC4"/>
<circle cx="248.6" cy="760.7" r="2.6" fill="#00BFC4"/>
<circle cx="252.1" cy="759.6" r="2.6" fill="#00BFC4"/>
<circle cx="225.2" cy="763.6" r="2.6" fill="#00BFC4"/>
<circle cx="219.4" cy="765.4" r="2.6" fill="#00BFC4"/>
<circle cx="228.7" cy="770.1" r="2.6" fill="#00BFC4"/>
<circle cx="231.1" cy="772.4" r="2.6" fill="#00BFC4"/>
<circle cx="233.4" cy="769.5" r="2.6" fill="#00BFC4"/>
<circle cx="241.0" cy="768.0" r="2.6" fill="#F8766D"/>
<circle cx="249.7" cy="765.4" r="2.6" fill="#00BFC4"/>
<circle cx="252.1" cy="768.9" r="2.6" fill="#00BFC4"/>
<circle cx="253.2" cy="774.7" r="2.6" fill="#00BFC4"/>
<circle cx="226.4" cy="775.9" r="2.6" fill="#00BFC4"/>
<circle cx="319.8" cy="710.5" r="2.6" fill="#00BFC4"/>
<circle cx="322.4" cy="714.4" r="2.6" fill="#F8766D"/>
<circle cx="321.5" cy="719.6" r="2.6" fill="#00BFC4"/>
<circle cx="316.2" cy="724.5" r="2.6" fill="#00BFC4"/>
<circle cx="302.8" cy="721.3" r="2.6" fill="#00BFC4"/>
<circle cx="307.8" cy="720.4" r="2.6" fill="#00BFC4"/>
<circle cx="313.1" cy="719.3" r="2.6" fill="#00BFC4"/>
<circle cx="287.6" cy="715.5" r="2.6" fill="#00BFC4"/>
<circle cx="264.6" cy="723.9" r="2.6" fill="#00BFC4"/>
<circle cx="274.9" cy="722.8" r="2.6" fill="#00BFC4"/>
<circle cx="280.4" cy="722.4" r="2.6" fill="#00BFC4"/>
<circle cx="291.1" cy="724.9" r="2.6" fill="#00BFC4"/>
<circle cx="274.3" cy="727.4" r="2.6" fill="#00BFC4"/>
<circle cx="284.5" cy="728.0" r="2.6" fill="#F8766D"/>
<circle cx="282.1" cy="729.4" r="2.6" fill="#00BFC4"/>
<circle cx="274.5" cy="731.5" r="2.6" fill="#F8766D"/>
<circle cx="257.0" cy="735.6" r="2.6" fill="#00BFC4"/>
<circle cx="262.8" cy="735.0" r="2.6" fill="#00BFC4"/>
<circle cx="267.5" cy="733.3" r="2.6" fill="#00BFC4"/>
<circle cx="272.2" cy="735.0" r="2.6" fill="#00BFC4"/>
<circle cx="275.1" cy="736.2" r="2.6" fill="#00BFC4"/>
<circle cx="258.2" cy="741.5" r="2.6" fill="#00BFC4"/>
<circle cx="261.7" cy="744.4" r="2.6" fill="#00BFC4"/>
<circle cx="254.7" cy="746.7" r="2.6" fill="#00BFC4"/>
<circle cx="252.3" cy="750.2" r="2.6" fill="#00BFC4"/>
<circle cx="257.0" cy="749.1" r="2.6" fill="#00BFC4"/>
<circle cx="260.5" cy="750.2" r="2.6" fill="#00BFC4"/>
<circle cx="267.5" cy="738.5" r="2.6" fill="#00BFC4"/>
<circle cx="273.4" cy="739.7" r="2.6" fill="#00BFC4"/>
<circle cx="278.0" cy="737.4" r="2.6" fill="#00BFC4"/>
<circle cx="282.7" cy="739.7" r="2.6" fill="#00BFC4"/>
<circle cx="287.4" cy="738.5" r="2.6" fill="#00BFC4"/>
<circle cx="292.0" cy="735.0" r="2.6" fill="#00BFC4"/>
<circle cx="295.5" cy="733.9" r="2.6" fill="#00BFC4"/>
<circle cx="294.4" cy="737.4" r="2.6" fill="#00BFC4"/>
<circle cx="297.9" cy="739.1" r="2.6" fill="#00BFC4"/>
<circle cx="302.6" cy="739.5" r="2.6" fill="#00BFC4"/>
<circle cx="264.6" cy="741.8" r="2.6" fill="#F8766D"/>
<circle cx="287.6" cy="744.1" r="2.6" fill="#F8766D"/>
<circle cx="278.0" cy="744.4" r="2.6" fill="#00BFC4"/>
<circle cx="281.5" cy="743.2" r="2.6" fill="#00BFC4"/>
<circle cx="273.4" cy="745.5" r="2.6" fill="#00BFC4"/>
<circle cx="268.7" cy="746.7" r="2.6" fill="#00BFC4"/>
<circle cx="276.9" cy="749.1" r="2.6" fill="#00BFC4"/>
<circle cx="290.9" cy="746.1" r="2.6" fill="#00BFC4"/>
<circle cx="295.5" cy="747.3" r="2.6" fill="#00BFC4"/>
<circle cx="285.0" cy="750.2" r="2.6" fill="#00BFC4"/>
<circle cx="287.4" cy="752.6" r="2.6" fill="#00BFC4"/>
<circle cx="281.5" cy="753.7" r="2.6" fill="#00BFC4"/>
<circle cx="282.7" cy="756.1" r="2.6" fill="#00BFC4"/>
<circle cx="266.4" cy="751.4" r="2.6" fill="#F8766D"/>
<circle cx="273.4" cy="751.4" r="2.6" fill="#F8766D"/>
<circle cx="274.5" cy="754.9" r="2.6" fill="#F8766D"/>
<circle cx="271.0" cy="757.8" r="2.6" fill="#F8766D"/>
<circle cx="268.7" cy="750.8" r="2.6" fill="#00BFC4"/>
<circle cx="264.6" cy="757.8" r="2.6" fill="#00BFC4"/>
<circle cx="261.7" cy="754.9" r="2.6" fill="#00BFC4"/>
<circle cx="277.2" cy="759.8" r="2.6" fill="#00BFC4"/>
<circle cx="254.7" cy="756.1" r="2.6" fill="#00BFC4"/>
<circle cx="257.0" cy="760.7" r="2.6" fill="#00BFC4"/>
<circle cx="252.3" cy="761.9" r="2.6" fill="#00BFC4"/>
<circle cx="259.3" cy="763.6" r="2.6" fill="#00BFC4"/>
<circle cx="253.5" cy="766.6" r="2.6" fill="#00BFC4"/>
<circle cx="250.0" cy="777.1" r="2.6" fill="#00BFC4"/>
<circle cx="263.8" cy="764.8" r="2.6" fill="#F8766D"/>
<circle cx="264.6" cy="767.7" r="2.6" fill="#00BFC4"/>
<circle cx="268.7" cy="770.7" r="2.6" fill="#00BFC4"/>
<circle cx="258.8" cy="771.5" r="2.6" fill="#00BFC4"/>
<circle cx="249.6" cy="781.1" r="2.6" fill="#F8766D"/>
<circle cx="263.4" cy="783.7" r="2.6" fill="#F8766D"/>
<polygon points="65.60,869.30 71.98,865.48 78.36,861.66 84.74,857.84 91.12,854.02 97.50,850.20 103.88,846.38 110.26,842.55 116.64,838.73 123.02,834.91 129.40,831.08 135.78,827.26 142.16,823.43 148.54,819.60 154.92,815.77 161.30,811.93 167.68,808.09 174.06,804.25 180.44,800.40 186.82,796.54 193.20,792.67 199.58,788.78 205.96,784.87 212.34,780.92 218.72,776.93 225.10,772.90 231.48,768.82 237.86,764.70 244.24,760.55 250.62,756.37 257.00,752.18 263.38,747.98 269.76,743.76 276.14,739.54 282.52,735.31 288.90,731.08 295.28,726.85 301.66,722.62 308.04,718.38 314.42,714.14 320.80,709.90 320.80,716.90 314.42,720.72 308.04,724.55 301.66,728.38 295.28,732.21 288.90,736.04 282.52,739.88 276.14,743.71 269.76,747.56 263.38,751.41 257.00,755.27 250.62,759.14 244.24,763.03 237.86,766.94 231.48,770.89 225.10,774.87 218.72,778.91 212.34,782.98 205.96,787.10 199.58,791.26 193.20,795.43 186.82,799.63 180.44,803.83 174.06,808.05 167.68,812.27 161.30,816.49 154.92,820.72 148.54,824.96 142.16,829.19 135.78,833.43 129.40,837.67 123.02,841.91 116.64,846.15 110.26,850.39 103.88,854.63 97.50,858.88 91.12,863.12 84.74,867.36 78.36,871.61 71.98,875.85 65.60,880.10" fill="#999999" fill-opacity="0.4"/>
<line x1="65.6" y1="874.7" x2="320.8" y2="713.4" stroke="#000" stroke-width="3.2"/>
<line x1="48.95" y1="708.93" x2="52.95" y2="708.93" stroke="#333" stroke-width="1.1"/>
<text x="46.05" y="713.78" font-size="13.7" text-anchor="end" fill="#4D4D4D">2.5</text>
<line x1="48.95" y1="756.60" x2="52.95" y2="756.60" stroke="#333" stroke-width="1.1"/>
<text x="46.05" y="761.45" font-size="13.7" text-anchor="end" fill="#4D4D4D">0.0</text>
<line x1="48.95" y1="804.27" x2="52.95" y2="804.27" stroke="#333" stroke-width="1.1"/>
<text x="46.05" y="809.12" font-size="13.7" text-anchor="end" fill="#4D4D4D">-2.5</text>
<line x1="48.95" y1="851.95" x2="52.95" y2="851.95" stroke="#333" stroke-width="1.1"/>
<text x="46.05" y="856.80" font-size="13.7" text-anchor="end" fill="#4D4D4D">-5.0</text>
<line x1="68.10" y1="893.80" x2="68.10" y2="897.80" stroke="#333" stroke-width="1.1"/>
<text x="68.10" y="911.05" font-size="13.7" text-anchor="middle" fill="#4D4D4D">-6</text>
<line x1="128.40" y1="893.80" x2="128.40" y2="897.80" stroke="#333" stroke-width="1.1"/>
<text x="128.40" y="911.05" font-size="13.7" text-anchor="middle" fill="#4D4D4D">-4</text>
<line x1="188.70" y1="893.80" x2="188.70" y2="897.80" stroke="#333" stroke-width="1.1"/>
<text x="188.70" y="911.05" font-size="13.7" text-anchor="middle" fill="#4D4D4D">-2</text>
<line x1="249.00" y1="893.80" x2="249.00" y2="897.80" stroke="#333" stroke-width="1.1"/>
<text x="249.00" y="911.05" font-size="13.7" text-anchor="middle" fill="#4D4D4D">0</text>
<line x1="309.30" y1="893.80" x2="309.30" y2="897.80" stroke="#333" stroke-width="1.1"/>
<text x="309.30" y="911.05" font-size="13.7" text-anchor="middle" fill="#4D4D4D">2</text>
<line x1="52.95" y1="675.30" x2="52.95" y2="893.80" stroke="#000" stroke-width="3.6"/>
<line x1="52.95" y1="893.80" x2="334.80" y2="893.80" stroke="#000" stroke-width="3.6"/>
<text x="191.68" y="928.10" font-size="14.7" font-weight="bold" text-anchor="middle" fill="#000">FCSRT-IR</text>
<text transform="translate(12.05,786.45) rotate(-90)" font-size="14.7" font-weight="bold" text-anchor="middle" fill="#000">FCSRT-DR</text>
<text x="208.75" y="699.70" font-size="17.55" font-weight="bold" fill="#000">β</text>
<rect x="224.65" y="692.00" width="8.9" height="1.75" rx="0.5" fill="#000"/>
<rect x="224.65" y="695.85" width="8.9" height="1.75" rx="0.5" fill="#000"/>
<text x="237.85" y="699.60" font-size="17.55" font-weight="bold" fill="#000">0.915</text>
</g>
<g id="p6">
<circle cx="414.1" cy="880.5" r="2.6" fill="#F8766D"/>
<circle cx="456.1" cy="824.7" r="2.6" fill="#00BFC4"/>
<circle cx="460.8" cy="836.7" r="2.6" fill="#F8766D"/>
<circle cx="463.1" cy="835.5" r="2.6" fill="#F8766D"/>
<circle cx="445.6" cy="838.2" r="2.6" fill="#F8766D"/>
<circle cx="435.5" cy="846.3" r="2.6" fill="#F8766D"/>
<circle cx="445.6" cy="847.6" r="2.6" fill="#F8766D"/>
<circle cx="457.0" cy="848.4" r="2.6" fill="#00BFC4"/>
<circle cx="452.1" cy="850.1" r="2.6" fill="#F8766D"/>
<circle cx="453.2" cy="853.1" r="2.6" fill="#F8766D"/>
<circle cx="463.7" cy="850.5" r="2.6" fill="#F8766D"/>
<circle cx="436.6" cy="852.7" r="2.6" fill="#F8766D"/>
<circle cx="445.6" cy="853.9" r="2.6" fill="#F8766D"/>
<circle cx="461.4" cy="854.8" r="2.6" fill="#F8766D"/>
<circle cx="475.4" cy="853.1" r="2.6" fill="#F8766D"/>
<circle cx="479.5" cy="850.1" r="2.6" fill="#F8766D"/>
<circle cx="456.1" cy="859.1" r="2.6" fill="#F8766D"/>
<circle cx="450.3" cy="861.0" r="2.6" fill="#F8766D"/>
<circle cx="466.6" cy="859.8" r="2.6" fill="#F8766D"/>
<circle cx="462.6" cy="861.8" r="2.6" fill="#00BFC4"/>
<circle cx="456.7" cy="866.1" r="2.6" fill="#F8766D"/>
<circle cx="439.2" cy="860.1" r="2.6" fill="#F8766D"/>
<circle cx="436.9" cy="860.7" r="2.6" fill="#F8766D"/>
<circle cx="434.5" cy="861.8" r="2.6" fill="#F8766D"/>
<circle cx="432.2" cy="863.6" r="2.6" fill="#F8766D"/>
<circle cx="429.9" cy="864.7" r="2.6" fill="#F8766D"/>
<circle cx="427.5" cy="866.5" r="2.6" fill="#F8766D"/>
<circle cx="425.2" cy="868.2" r="2.6" fill="#F8766D"/>
<circle cx="423.4" cy="870.4" r="2.6" fill="#F8766D"/>
<circle cx="440.4" cy="868.0" r="2.6" fill="#F8766D"/>
<circle cx="438.0" cy="870.0" r="2.6" fill="#F8766D"/>
<circle cx="442.1" cy="869.4" r="2.6" fill="#F8766D"/>
<circle cx="463.1" cy="870.9" r="2.6" fill="#F8766D"/>
<circle cx="444.1" cy="875.5" r="2.6" fill="#F8766D"/>
<circle cx="531.1" cy="777.6" r="2.6" fill="#F8766D"/>
<circle cx="535.8" cy="781.1" r="2.6" fill="#00BFC4"/>
<circle cx="552.7" cy="772.3" r="2.6" fill="#00BFC4"/>
<circle cx="555.7" cy="770.6" r="2.6" fill="#00BFC4"/>
<circle cx="549.8" cy="779.1" r="2.6" fill="#00BFC4"/>
<circle cx="522.4" cy="784.0" r="2.6" fill="#00BFC4"/>
<circle cx="527.6" cy="785.8" r="2.6" fill="#F8766D"/>
<circle cx="528.8" cy="790.4" r="2.6" fill="#F8766D"/>
<circle cx="523.0" cy="789.9" r="2.6" fill="#F8766D"/>
<circle cx="534.1" cy="789.9" r="2.6" fill="#00BFC4"/>
<circle cx="538.1" cy="788.7" r="2.6" fill="#00BFC4"/>
<circle cx="534.1" cy="792.8" r="2.6" fill="#F8766D"/>
<circle cx="544.6" cy="785.2" r="2.6" fill="#00BFC4"/>
<circle cx="553.3" cy="785.8" r="2.6" fill="#00BFC4"/>
<circle cx="557.4" cy="784.0" r="2.6" fill="#00BFC4"/>
<circle cx="548.1" cy="782.8" r="2.6" fill="#F8766D"/>
<circle cx="539.9" cy="795.1" r="2.6" fill="#00BFC4"/>
<circle cx="543.4" cy="793.4" r="2.6" fill="#00BFC4"/>
<circle cx="546.9" cy="791.0" r="2.6" fill="#00BFC4"/>
<circle cx="550.4" cy="796.9" r="2.6" fill="#00BFC4"/>
<circle cx="555.1" cy="794.5" r="2.6" fill="#00BFC4"/>
<circle cx="557.4" cy="792.2" r="2.6" fill="#00BFC4"/>
<circle cx="542.8" cy="798.0" r="2.6" fill="#00BFC4"/>
<circle cx="548.1" cy="798.0" r="2.6" fill="#F8766D"/>
<circle cx="498.1" cy="800.9" r="2.6" fill="#F8766D"/>
<circle cx="502.2" cy="804.5" r="2.6" fill="#00BFC4"/>
<circle cx="525.3" cy="799.8" r="2.6" fill="#00BFC4"/>
<circle cx="531.7" cy="800.4" r="2.6" fill="#00BFC4"/>
<circle cx="525.9" cy="802.7" r="2.6" fill="#F8766D"/>
<circle cx="535.8" cy="799.2" r="2.6" fill="#F8766D"/>
<circle cx="520.0" cy="804.5" r="2.6" fill="#00BFC4"/>
<circle cx="520.0" cy="808.0" r="2.6" fill="#F8766D"/>
<circle cx="556.2" cy="803.3" r="2.6" fill="#00BFC4"/>
<circle cx="551.6" cy="808.0" r="2.6" fill="#00BFC4"/>
<circle cx="554.5" cy="810.6" r="2.6" fill="#F8766D"/>
<circle cx="535.2" cy="808.0" r="2.6" fill="#F8766D"/>
<circle cx="532.3" cy="808.5" r="2.6" fill="#00BFC4"/>
<circle cx="517.7" cy="811.5" r="2.6" fill="#00BFC4"/>
<circle cx="522.4" cy="815.0" r="2.6" fill="#00BFC4"/>
<circle cx="518.3" cy="818.5" r="2.6" fill="#F8766D"/>
<circle cx="523.0" cy="817.3" r="2.6" fill="#F8766D"/>
<circle cx="527.6" cy="819.1" r="2.6" fill="#F8766D"/>
<circle cx="526.5" cy="819.6" r="2.6" fill="#00BFC4"/>
<circle cx="532.9" cy="818.1" r="2.6" fill="#00BFC4"/>
<circle cx="513.6" cy="822.6" r="2.6" fill="#00BFC4"/>
<circle cx="517.7" cy="826.1" r="2.6" fill="#00BFC4"/>
<circle cx="537.6" cy="825.1" r="2.6" fill="#00BFC4"/>
<circle cx="540.5" cy="831.7" r="2.6" fill="#F8766D"/>
<circle cx="491.1" cy="817.6" r="2.6" fill="#00BFC4"/>
<circle cx="496.5" cy="822.0" r="2.6" fill="#00BFC4"/>
<circle cx="490.6" cy="819.6" r="2.6" fill="#F8766D"/>
<circle cx="488.5" cy="826.1" r="2.6" fill="#F8766D"/>
<circle cx="494.9" cy="832.5" r="2.6" fill="#F8766D"/>
<circle cx="507.0" cy="834.0" r="2.6" fill="#F8766D"/>
<circle cx="508.4" cy="837.7" r="2.6" fill="#F8766D"/>
<circle cx="512.8" cy="836.6" r="2.6" fill="#F8766D"/>
<circle cx="500.0" cy="837.5" r="2.6" fill="#F8766D"/>
<circle cx="492.6" cy="839.5" r="2.6" fill="#F8766D"/>
<circle cx="498.1" cy="843.8" r="2.6" fill="#F8766D"/>
<circle cx="498.1" cy="846.5" r="2.6" fill="#F8766D"/>
<circle cx="494.4" cy="850.6" r="2.6" fill="#F8766D"/>
<circle cx="493.8" cy="857.6" r="2.6" fill="#F8766D"/>
<circle cx="516.3" cy="852.0" r="2.6" fill="#F8766D"/>
<circle cx="521.4" cy="858.2" r="2.6" fill="#F8766D"/>
<circle cx="615.2" cy="730.7" r="2.6" fill="#00BFC4"/>
<circle cx="609.6" cy="735.2" r="2.6" fill="#00BFC4"/>
<circle cx="618.9" cy="736.1" r="2.6" fill="#00BFC4"/>
<circle cx="625.9" cy="734.0" r="2.6" fill="#F8766D"/>
<circle cx="627.7" cy="732.6" r="2.6" fill="#00BFC4"/>
<circle cx="582.1" cy="746.3" r="2.6" fill="#00BFC4"/>
<circle cx="596.1" cy="744.8" r="2.6" fill="#00BFC4"/>
<circle cx="600.2" cy="748.0" r="2.6" fill="#00BFC4"/>
<circle cx="604.9" cy="748.0" r="2.6" fill="#00BFC4"/>
<circle cx="608.4" cy="747.4" r="2.6" fill="#00BFC4"/>
<circle cx="617.7" cy="744.5" r="2.6" fill="#00BFC4"/>
<circle cx="621.2" cy="742.8" r="2.6" fill="#00BFC4"/>
<circle cx="624.7" cy="742.2" r="2.6" fill="#00BFC4"/>
<circle cx="628.2" cy="739.9" r="2.6" fill="#00BFC4"/>
<circle cx="597.3" cy="751.3" r="2.6" fill="#F8766D"/>
<circle cx="597.9" cy="756.2" r="2.6" fill="#F8766D"/>
<circle cx="576.6" cy="756.4" r="2.6" fill="#F8766D"/>
<circle cx="581.5" cy="756.2" r="2.6" fill="#00BFC4"/>
<circle cx="585.0" cy="757.4" r="2.6" fill="#00BFC4"/>
<circle cx="588.5" cy="758.5" r="2.6" fill="#00BFC4"/>
<circle cx="592.0" cy="756.2" r="2.6" fill="#00BFC4"/>
<circle cx="594.4" cy="753.9" r="2.6" fill="#00BFC4"/>
<circle cx="602.0" cy="750.4" r="2.6" fill="#00BFC4"/>
<circle cx="604.9" cy="753.9" r="2.6" fill="#00BFC4"/>
<circle cx="610.7" cy="750.4" r="2.6" fill="#00BFC4"/>
<circle cx="614.2" cy="751.5" r="2.6" fill="#00BFC4"/>
<circle cx="617.7" cy="749.2" r="2.6" fill="#00BFC4"/>
<circle cx="621.2" cy="751.5" r="2.6" fill="#00BFC4"/>
<circle cx="624.7" cy="750.4" r="2.6" fill="#00BFC4"/>
<circle cx="628.2" cy="749.2" r="2.6" fill="#00BFC4"/>
<circle cx="571.4" cy="760.3" r="2.6" fill="#00BFC4"/>
<circle cx="578.6" cy="763.2" r="2.6" fill="#00BFC4"/>
<circle cx="581.5" cy="762.6" r="2.6" fill="#00BFC4"/>
<circle cx="585.0" cy="760.9" r="2.6" fill="#00BFC4"/>
<circle cx="588.5" cy="762.0" r="2.6" fill="#00BFC4"/>
<circle cx="562.3" cy="764.1" r="2.6" fill="#00BFC4"/>
<circle cx="573.4" cy="765.5" r="2.6" fill="#00BFC4"/>
<circle cx="573.4" cy="768.5" r="2.6" fill="#F8766D"/>
<circle cx="615.4" cy="758.5" r="2.6" fill="#00BFC4"/>
<circle cx="618.9" cy="756.2" r="2.6" fill="#00BFC4"/>
<circle cx="609.0" cy="763.0" r="2.6" fill="#F8766D"/>
<circle cx="611.9" cy="763.0" r="2.6" fill="#F8766D"/>
<circle cx="601.4" cy="765.5" r="2.6" fill="#00BFC4"/>
<circle cx="605.5" cy="765.5" r="2.6" fill="#00BFC4"/>
<circle cx="603.7" cy="762.0" r="2.6" fill="#00BFC4"/>
<circle cx="592.6" cy="767.9" r="2.6" fill="#F8766D"/>
<circle cx="596.7" cy="769.1" r="2.6" fill="#F8766D"/>
<circle cx="589.1" cy="766.7" r="2.6" fill="#00BFC4"/>
<circle cx="611.3" cy="768.8" r="2.6" fill="#00BFC4"/>
<circle cx="623.6" cy="770.0" r="2.6" fill="#00BFC4"/>
<circle cx="627.3" cy="766.5" r="2.6" fill="#00BFC4"/>
<circle cx="567.5" cy="771.4" r="2.6" fill="#00BFC4"/>
<circle cx="576.3" cy="772.0" r="2.6" fill="#00BFC4"/>
<circle cx="581.5" cy="770.2" r="2.6" fill="#00BFC4"/>
<circle cx="585.0" cy="769.1" r="2.6" fill="#00BFC4"/>
<circle cx="588.5" cy="774.3" r="2.6" fill="#00BFC4"/>
<circle cx="592.0" cy="772.0" r="2.6" fill="#00BFC4"/>
<circle cx="605.5" cy="773.5" r="2.6" fill="#00BFC4"/>
<circle cx="609.3" cy="776.6" r="2.6" fill="#F8766D"/>
<circle cx="609.9" cy="782.7" r="2.6" fill="#00BFC4"/>
<circle cx="594.7" cy="780.1" r="2.6" fill="#00BFC4"/>
<circle cx="587.1" cy="782.5" r="2.6" fill="#F8766D"/>
<circle cx="580.4" cy="777.8" r="2.6" fill="#00BFC4"/>
<circle cx="583.3" cy="777.2" r="2.6" fill="#00BFC4"/>
<circle cx="575.9" cy="782.5" r="2.6" fill="#F8766D"/>
<circle cx="561.7" cy="779.6" r="2.6" fill="#00BFC4"/>
<circle cx="564.0" cy="780.7" r="2.6" fill="#00BFC4"/>
<circle cx="568.7" cy="776.1" r="2.6" fill="#00BFC4"/>
<circle cx="551.8" cy="779.0" r="2.6" fill="#F8766D"/>
<circle cx="564.6" cy="787.5" r="2.6" fill="#F8766D"/>
<circle cx="558.8" cy="791.5" r="2.6" fill="#F8766D"/>
<circle cx="577.4" cy="786.6" r="2.6" fill="#00BFC4"/>
<circle cx="579.2" cy="788.9" r="2.6" fill="#00BFC4"/>
<circle cx="574.5" cy="790.1" r="2.6" fill="#00BFC4"/>
<circle cx="570.4" cy="790.7" r="2.6" fill="#00BFC4"/>
<circle cx="568.1" cy="794.7" r="2.6" fill="#00BFC4"/>
<circle cx="562.8" cy="793.6" r="2.6" fill="#00BFC4"/>
<circle cx="576.9" cy="791.2" r="2.6" fill="#00BFC4"/>
<circle cx="584.8" cy="795.0" r="2.6" fill="#F8766D"/>
<circle cx="586.8" cy="794.2" r="2.6" fill="#00BFC4"/>
<circle cx="591.5" cy="797.4" r="2.6" fill="#00BFC4"/>
<circle cx="583.9" cy="801.5" r="2.6" fill="#F8766D"/>
<circle cx="562.0" cy="809.6" r="2.6" fill="#00BFC4"/>
<circle cx="670.4" cy="710.5" r="2.6" fill="#F8766D"/>
<circle cx="633.0" cy="736.2" r="2.6" fill="#00BFC4"/>
<circle cx="615.5" cy="747.9" r="2.6" fill="#00BFC4"/>
<circle cx="620.2" cy="749.1" r="2.6" fill="#00BFC4"/>
<circle cx="623.7" cy="747.9" r="2.6" fill="#00BFC4"/>
<circle cx="628.4" cy="746.7" r="2.6" fill="#00BFC4"/>
<circle cx="631.9" cy="749.1" r="2.6" fill="#00BFC4"/>
<circle cx="635.4" cy="745.5" r="2.6" fill="#00BFC4"/>
<circle cx="637.1" cy="747.3" r="2.6" fill="#00BFC4"/>
<circle cx="645.3" cy="746.1" r="2.6" fill="#00BFC4"/>
<circle cx="615.5" cy="756.1" r="2.6" fill="#00BFC4"/>
<circle cx="631.3" cy="751.4" r="2.6" fill="#00BFC4"/>
<circle cx="632.1" cy="754.9" r="2.6" fill="#00BFC4"/>
<circle cx="616.7" cy="751.4" r="2.6" fill="#F8766D"/>
<polygon points="414.10,876.50 420.50,872.58 426.91,868.66 433.31,864.74 439.71,860.83 446.11,856.91 452.52,852.98 458.92,849.06 465.32,845.14 471.72,841.21 478.12,837.29 484.53,833.36 490.93,829.43 497.33,825.49 503.74,821.55 510.14,817.61 516.54,813.66 522.94,809.70 529.35,805.72 535.75,801.73 542.15,797.72 548.55,793.68 554.96,789.62 561.36,785.52 567.76,781.40 574.16,777.26 580.57,773.10 586.97,768.92 593.37,764.74 599.77,760.54 606.18,756.34 612.58,752.14 618.98,747.93 625.38,743.72 631.79,739.51 638.19,735.29 644.59,731.08 650.99,726.86 657.39,722.64 663.80,718.42 670.20,714.20 670.20,720.20 663.80,724.12 657.39,728.04 650.99,731.96 644.59,735.88 638.19,739.81 631.79,743.73 625.38,747.66 618.98,751.59 612.58,755.52 606.18,759.46 599.77,763.40 593.37,767.34 586.97,771.30 580.57,775.26 574.16,779.24 567.76,783.24 561.36,787.26 554.96,791.30 548.55,795.38 542.15,799.48 535.75,803.61 529.35,807.76 522.94,811.92 516.54,816.10 510.14,820.29 503.74,824.49 497.33,828.69 490.93,832.89 484.53,837.10 478.12,841.31 471.72,845.53 465.32,849.74 458.92,853.96 452.52,858.18 446.11,862.39 439.71,866.61 433.31,870.84 426.91,875.06 420.50,879.28 414.10,883.50" fill="#999999" fill-opacity="0.4"/>
<line x1="414.1" y1="880.0" x2="670.2" y2="717.2" stroke="#000" stroke-width="3.2"/>
<line x1="397.45" y1="713.20" x2="401.45" y2="713.20" stroke="#333" stroke-width="1.1"/>
<text x="394.55" y="718.05" font-size="13.7" text-anchor="end" fill="#4D4D4D">2.5</text>
<line x1="397.45" y1="774.20" x2="401.45" y2="774.20" stroke="#333" stroke-width="1.1"/>
<text x="394.55" y="779.05" font-size="13.7" text-anchor="end" fill="#4D4D4D">0.0</text>
<line x1="397.45" y1="835.20" x2="401.45" y2="835.20" stroke="#333" stroke-width="1.1"/>
<text x="394.55" y="840.05" font-size="13.7" text-anchor="end" fill="#4D4D4D">-2.5</text>
<line x1="484.85" y1="893.80" x2="484.85" y2="897.80" stroke="#333" stroke-width="1.1"/>
<text x="484.85" y="911.05" font-size="13.7" text-anchor="middle" fill="#4D4D4D">-2.5</text>
<line x1="578.10" y1="893.80" x2="578.10" y2="897.80" stroke="#333" stroke-width="1.1"/>
<text x="578.10" y="911.05" font-size="13.7" text-anchor="middle" fill="#4D4D4D">0.0</text>
<line x1="671.35" y1="893.80" x2="671.35" y2="897.80" stroke="#333" stroke-width="1.1"/>
<text x="671.35" y="911.05" font-size="13.7" text-anchor="middle" fill="#4D4D4D">2.5</text>
<line x1="401.45" y1="675.30" x2="401.45" y2="893.80" stroke="#000" stroke-width="3.6"/>
<line x1="401.45" y1="893.80" x2="683.40" y2="893.80" stroke="#000" stroke-width="3.6"/>
<text x="540.22" y="928.10" font-size="14.7" font-weight="bold" text-anchor="middle" fill="#000">RAVLT-IR</text>
<text transform="translate(360.55,786.45) rotate(-90)" font-size="14.7" font-weight="bold" text-anchor="middle" fill="#000">RAVLT-DR</text>
<text x="557.25" y="699.70" font-size="17.55" font-weight="bold" fill="#000">β</text>
<rect x="573.15" y="692.00" width="8.9" height="1.75" rx="0.5" fill="#000"/>
<rect x="573.15" y="695.85" width="8.9" height="1.75" rx="0.5" fill="#000"/>
<text x="586.35" y="699.60" font-size="17.55" font-weight="bold" fill="#000">0.948</text>
</g>
</svg></body></html>
